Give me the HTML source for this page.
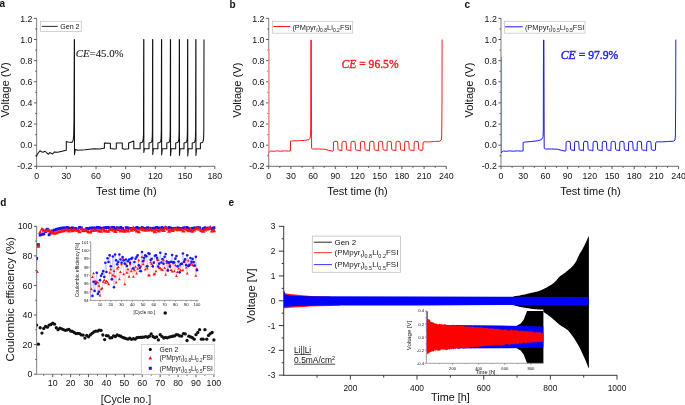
<!DOCTYPE html><html><head><meta charset="utf-8"><style>html,body{margin:0;padding:0;background:#fff;width:685px;height:405px;overflow:hidden}svg{display:block;will-change:transform}</style></head><body><svg width="685" height="405" viewBox="0 0 685 405">
<rect width="685" height="405" fill="#fff"/>
<text x="-0.4" y="7.4" font-size="10" text-anchor="start" fill="#111" font-weight="bold" font-family='"Liberation Sans", sans-serif' >a</text>
<text x="229.6" y="7.6" font-size="10" text-anchor="start" fill="#111" font-weight="bold" font-family='"Liberation Sans", sans-serif' >b</text>
<text x="464.4" y="7.6" font-size="10" text-anchor="start" fill="#111" font-weight="bold" font-family='"Liberation Sans", sans-serif' >c</text>
<text x="0.2" y="205.5" font-size="10" text-anchor="start" fill="#111" font-weight="bold" font-family='"Liberation Sans", sans-serif' >d</text>
<text x="228.6" y="205.8" font-size="10" text-anchor="start" fill="#111" font-weight="bold" font-family='"Liberation Sans", sans-serif' >e</text>
<text transform="translate(9.3 89.9) rotate(-90)" x="0" y="0" font-size="11.2" text-anchor="middle" fill="#111" font-family='"Liberation Sans", sans-serif' textLength="55.2" lengthAdjust="spacingAndGlyphs">Voltage (V)</text>
<text transform="translate(241.2 90.1) rotate(-90)" x="0" y="0" font-size="11.2" text-anchor="middle" fill="#111" font-family='"Liberation Sans", sans-serif' textLength="55.2" lengthAdjust="spacingAndGlyphs">Voltage (V)</text>
<text transform="translate(473.4 90.1) rotate(-90)" x="0" y="0" font-size="11.2" text-anchor="middle" fill="#111" font-family='"Liberation Sans", sans-serif' textLength="55.2" lengthAdjust="spacingAndGlyphs">Voltage (V)</text>
<line x1="36.6" y1="18.36" x2="36.6" y2="166.34" stroke="#8a8a8a" stroke-width="1.1"/>
<line x1="36.6" y1="166.34" x2="214.8" y2="166.34" stroke="#8a8a8a" stroke-width="1.1"/>
<line x1="34" y1="166.34" x2="36.6" y2="166.34" stroke="#444" stroke-width="0.9"/>
<text x="32.4" y="169.49" font-size="8.8" text-anchor="end" fill="#111" font-weight="normal" font-family='"Liberation Sans", sans-serif' >-0.2</text>
<line x1="34" y1="145.2" x2="36.6" y2="145.2" stroke="#444" stroke-width="0.9"/>
<text x="32.4" y="148.35" font-size="8.8" text-anchor="end" fill="#111" font-weight="normal" font-family='"Liberation Sans", sans-serif' >0.0</text>
<line x1="34" y1="124.06" x2="36.6" y2="124.06" stroke="#444" stroke-width="0.9"/>
<text x="32.4" y="127.21" font-size="8.8" text-anchor="end" fill="#111" font-weight="normal" font-family='"Liberation Sans", sans-serif' >0.2</text>
<line x1="34" y1="102.92" x2="36.6" y2="102.92" stroke="#444" stroke-width="0.9"/>
<text x="32.4" y="106.07" font-size="8.8" text-anchor="end" fill="#111" font-weight="normal" font-family='"Liberation Sans", sans-serif' >0.4</text>
<line x1="34" y1="81.78" x2="36.6" y2="81.78" stroke="#444" stroke-width="0.9"/>
<text x="32.4" y="84.93" font-size="8.8" text-anchor="end" fill="#111" font-weight="normal" font-family='"Liberation Sans", sans-serif' >0.6</text>
<line x1="34" y1="60.64" x2="36.6" y2="60.64" stroke="#444" stroke-width="0.9"/>
<text x="32.4" y="63.79" font-size="8.8" text-anchor="end" fill="#111" font-weight="normal" font-family='"Liberation Sans", sans-serif' >0.8</text>
<line x1="34" y1="39.5" x2="36.6" y2="39.5" stroke="#444" stroke-width="0.9"/>
<text x="32.4" y="42.65" font-size="8.8" text-anchor="end" fill="#111" font-weight="normal" font-family='"Liberation Sans", sans-serif' >1.0</text>
<line x1="34" y1="18.36" x2="36.6" y2="18.36" stroke="#444" stroke-width="0.9"/>
<text x="32.4" y="21.51" font-size="8.8" text-anchor="end" fill="#111" font-weight="normal" font-family='"Liberation Sans", sans-serif' >1.2</text>
<line x1="35.1" y1="155.77" x2="36.6" y2="155.77" stroke="#444" stroke-width="0.8"/>
<line x1="35.1" y1="134.63" x2="36.6" y2="134.63" stroke="#444" stroke-width="0.8"/>
<line x1="35.1" y1="113.49" x2="36.6" y2="113.49" stroke="#444" stroke-width="0.8"/>
<line x1="35.1" y1="92.35" x2="36.6" y2="92.35" stroke="#444" stroke-width="0.8"/>
<line x1="35.1" y1="71.21" x2="36.6" y2="71.21" stroke="#444" stroke-width="0.8"/>
<line x1="35.1" y1="50.07" x2="36.6" y2="50.07" stroke="#444" stroke-width="0.8"/>
<line x1="35.1" y1="28.93" x2="36.6" y2="28.93" stroke="#444" stroke-width="0.8"/>
<line x1="36.6" y1="166.34" x2="36.6" y2="169.14" stroke="#444" stroke-width="0.9"/>
<text x="36.6" y="178.5" font-size="8.8" text-anchor="middle" fill="#111" font-weight="normal" font-family='"Liberation Sans", sans-serif' >0</text>
<line x1="51.45" y1="166.34" x2="51.45" y2="167.94" stroke="#444" stroke-width="0.8"/>
<line x1="66.3" y1="166.34" x2="66.3" y2="169.14" stroke="#444" stroke-width="0.9"/>
<text x="66.3" y="178.5" font-size="8.8" text-anchor="middle" fill="#111" font-weight="normal" font-family='"Liberation Sans", sans-serif' >30</text>
<line x1="81.15" y1="166.34" x2="81.15" y2="167.94" stroke="#444" stroke-width="0.8"/>
<line x1="96" y1="166.34" x2="96" y2="169.14" stroke="#444" stroke-width="0.9"/>
<text x="96" y="178.5" font-size="8.8" text-anchor="middle" fill="#111" font-weight="normal" font-family='"Liberation Sans", sans-serif' >60</text>
<line x1="110.85" y1="166.34" x2="110.85" y2="167.94" stroke="#444" stroke-width="0.8"/>
<line x1="125.7" y1="166.34" x2="125.7" y2="169.14" stroke="#444" stroke-width="0.9"/>
<text x="125.7" y="178.5" font-size="8.8" text-anchor="middle" fill="#111" font-weight="normal" font-family='"Liberation Sans", sans-serif' >90</text>
<line x1="140.55" y1="166.34" x2="140.55" y2="167.94" stroke="#444" stroke-width="0.8"/>
<line x1="155.4" y1="166.34" x2="155.4" y2="169.14" stroke="#444" stroke-width="0.9"/>
<text x="155.4" y="178.5" font-size="8.8" text-anchor="middle" fill="#111" font-weight="normal" font-family='"Liberation Sans", sans-serif' >120</text>
<line x1="170.25" y1="166.34" x2="170.25" y2="167.94" stroke="#444" stroke-width="0.8"/>
<line x1="185.1" y1="166.34" x2="185.1" y2="169.14" stroke="#444" stroke-width="0.9"/>
<text x="185.1" y="178.5" font-size="8.8" text-anchor="middle" fill="#111" font-weight="normal" font-family='"Liberation Sans", sans-serif' >150</text>
<line x1="199.95" y1="166.34" x2="199.95" y2="167.94" stroke="#444" stroke-width="0.8"/>
<line x1="214.8" y1="166.34" x2="214.8" y2="169.14" stroke="#444" stroke-width="0.9"/>
<text x="214.8" y="178.5" font-size="8.8" text-anchor="middle" fill="#111" font-weight="normal" font-family='"Liberation Sans", sans-serif' >180</text>
<text x="126.3" y="195.2" font-size="11" text-anchor="middle" fill="#111" font-weight="normal" font-family='"Liberation Sans", sans-serif' >Test time (h)</text>
<path d="M36.3 156.6 L37.5 154 L39.9 150.7 L41.5 151.8 L42.9 152.2 L45 151.2 L46.8 153 L48.5 154.3 L49.7 152.5 L51.2 153.3 L52.7 154 L54.4 151.9 L57.7 152.2 L62 151.3 L66.3 150.3 L66.3 141.6 L68 142.1 L71.9 142.4 L73.1 140.4 L73.7 136 L74 120 L74.3 39.6 L74.45 39.6 L74.5 154.7 L75.3 149.4 L77.8 150.2 L85 149.7 L93.9 148.8 L100 148.9 L103.7 148.3 L104.4 148.3 L104.4 142.9 L110.4 143.2 L110.4 148.5 L114.2 148.9 L116.3 148.7 L116.3 142.9 L122.3 142.9 L122.3 148.5 L124.4 149.2 L128.6 148.7 L128.6 142.9 L133.8 141.1 L133.8 148.7 L140.1 148.7 L140.1 142.9 L142.4 142.2 L143.1 140 L143.5 135 L143.7 39.6 L143.85 39.6 L143.85 152.5 L144.5 148.7 L149 148.7 L149 143 L151 142.6 L151.8 141.2 L152.2 138.5 L152.4 130 L152.6 39.6 L152.75 39.6 L152.75 154.5 L153.4 148.7 L157.9 148.7 L157.9 143 L159.9 142.6 L160.7 141.2 L161.1 138.5 L161.3 130 L161.5 39.6 L161.65 39.6 L161.65 154.9 L162.3 148.7 L166.8 148.7 L166.8 143 L168.8 142.6 L169.6 141.2 L170 138.5 L170.2 130 L170.4 39.6 L170.55 39.6 L170.55 155.7 L171.2 148.7 L175.7 148.7 L175.7 143 L177.7 142.6 L178.5 141.2 L178.9 138.5 L179.1 130 L179.3 39.6 L179.45 39.6 L179.45 155.5 L180.1 148.7 L184 148.7 L184 143 L186 142.6 L186.8 141.2 L187.2 138.5 L187.4 130 L187.6 39.6 L187.75 39.6 L187.75 156 L188.4 148.7 L192.2 148.7 L192.2 143 L194.2 142.6 L195 141.2 L195.4 138.5 L195.6 130 L195.8 39.6 L195.95 39.6 L195.95 155.5 L196.6 148.7 L200.4 148.7 L200.4 143 L202.4 142.6 L203.2 141.2 L203.6 138.5 L203.8 130 L204 39.6" fill="none" stroke="#111" stroke-width="1.05" stroke-linejoin="round" />
<rect x="40.5" y="21.3" width="40.8" height="10.2" fill="#fff" stroke="#c8c8c8" stroke-width="0.8"/>
<line x1="41.8" y1="26.4" x2="57.8" y2="26.4" stroke="#111" stroke-width="0.9"/>
<text x="60.2" y="28.9" font-size="7.2" text-anchor="start" fill="#111" font-weight="normal" font-family='"Liberation Sans", sans-serif' textLength="19.4" lengthAdjust="spacingAndGlyphs" >Gen 2</text>
<text x="75.7" y="57.2" font-size="11" fill="#222" stroke="#222" stroke-width="0.12" font-family='"Liberation Serif", serif' textLength="47.9" lengthAdjust="spacingAndGlyphs"><tspan font-style="italic">CE</tspan>=45.0%</text>
<line x1="268.7" y1="18.36" x2="268.7" y2="166.34" stroke="#8a8a8a" stroke-width="1.1"/>
<line x1="268.7" y1="166.34" x2="446.3" y2="166.34" stroke="#8a8a8a" stroke-width="1.1"/>
<line x1="266.1" y1="166.34" x2="268.7" y2="166.34" stroke="#444" stroke-width="0.9"/>
<text x="264.5" y="169.49" font-size="8.8" text-anchor="end" fill="#111" font-weight="normal" font-family='"Liberation Sans", sans-serif' >-0.2</text>
<line x1="266.1" y1="145.2" x2="268.7" y2="145.2" stroke="#444" stroke-width="0.9"/>
<text x="264.5" y="148.35" font-size="8.8" text-anchor="end" fill="#111" font-weight="normal" font-family='"Liberation Sans", sans-serif' >0.0</text>
<line x1="266.1" y1="124.06" x2="268.7" y2="124.06" stroke="#444" stroke-width="0.9"/>
<text x="264.5" y="127.21" font-size="8.8" text-anchor="end" fill="#111" font-weight="normal" font-family='"Liberation Sans", sans-serif' >0.2</text>
<line x1="266.1" y1="102.92" x2="268.7" y2="102.92" stroke="#444" stroke-width="0.9"/>
<text x="264.5" y="106.07" font-size="8.8" text-anchor="end" fill="#111" font-weight="normal" font-family='"Liberation Sans", sans-serif' >0.4</text>
<line x1="266.1" y1="81.78" x2="268.7" y2="81.78" stroke="#444" stroke-width="0.9"/>
<text x="264.5" y="84.93" font-size="8.8" text-anchor="end" fill="#111" font-weight="normal" font-family='"Liberation Sans", sans-serif' >0.6</text>
<line x1="266.1" y1="60.64" x2="268.7" y2="60.64" stroke="#444" stroke-width="0.9"/>
<text x="264.5" y="63.79" font-size="8.8" text-anchor="end" fill="#111" font-weight="normal" font-family='"Liberation Sans", sans-serif' >0.8</text>
<line x1="266.1" y1="39.5" x2="268.7" y2="39.5" stroke="#444" stroke-width="0.9"/>
<text x="264.5" y="42.65" font-size="8.8" text-anchor="end" fill="#111" font-weight="normal" font-family='"Liberation Sans", sans-serif' >1.0</text>
<line x1="266.1" y1="18.36" x2="268.7" y2="18.36" stroke="#444" stroke-width="0.9"/>
<text x="264.5" y="21.51" font-size="8.8" text-anchor="end" fill="#111" font-weight="normal" font-family='"Liberation Sans", sans-serif' >1.2</text>
<line x1="267.2" y1="155.77" x2="268.7" y2="155.77" stroke="#444" stroke-width="0.8"/>
<line x1="267.2" y1="134.63" x2="268.7" y2="134.63" stroke="#444" stroke-width="0.8"/>
<line x1="267.2" y1="113.49" x2="268.7" y2="113.49" stroke="#444" stroke-width="0.8"/>
<line x1="267.2" y1="92.35" x2="268.7" y2="92.35" stroke="#444" stroke-width="0.8"/>
<line x1="267.2" y1="71.21" x2="268.7" y2="71.21" stroke="#444" stroke-width="0.8"/>
<line x1="267.2" y1="50.07" x2="268.7" y2="50.07" stroke="#444" stroke-width="0.8"/>
<line x1="267.2" y1="28.93" x2="268.7" y2="28.93" stroke="#444" stroke-width="0.8"/>
<line x1="268.7" y1="166.34" x2="268.7" y2="169.14" stroke="#444" stroke-width="0.9"/>
<text x="268.7" y="178.5" font-size="8.8" text-anchor="middle" fill="#111" font-weight="normal" font-family='"Liberation Sans", sans-serif' >0</text>
<line x1="279.8" y1="166.34" x2="279.8" y2="167.94" stroke="#444" stroke-width="0.8"/>
<line x1="290.9" y1="166.34" x2="290.9" y2="169.14" stroke="#444" stroke-width="0.9"/>
<text x="290.9" y="178.5" font-size="8.8" text-anchor="middle" fill="#111" font-weight="normal" font-family='"Liberation Sans", sans-serif' >30</text>
<line x1="302" y1="166.34" x2="302" y2="167.94" stroke="#444" stroke-width="0.8"/>
<line x1="313.1" y1="166.34" x2="313.1" y2="169.14" stroke="#444" stroke-width="0.9"/>
<text x="313.1" y="178.5" font-size="8.8" text-anchor="middle" fill="#111" font-weight="normal" font-family='"Liberation Sans", sans-serif' >60</text>
<line x1="324.2" y1="166.34" x2="324.2" y2="167.94" stroke="#444" stroke-width="0.8"/>
<line x1="335.3" y1="166.34" x2="335.3" y2="169.14" stroke="#444" stroke-width="0.9"/>
<text x="335.3" y="178.5" font-size="8.8" text-anchor="middle" fill="#111" font-weight="normal" font-family='"Liberation Sans", sans-serif' >90</text>
<line x1="346.4" y1="166.34" x2="346.4" y2="167.94" stroke="#444" stroke-width="0.8"/>
<line x1="357.5" y1="166.34" x2="357.5" y2="169.14" stroke="#444" stroke-width="0.9"/>
<text x="357.5" y="178.5" font-size="8.8" text-anchor="middle" fill="#111" font-weight="normal" font-family='"Liberation Sans", sans-serif' >120</text>
<line x1="368.6" y1="166.34" x2="368.6" y2="167.94" stroke="#444" stroke-width="0.8"/>
<line x1="379.7" y1="166.34" x2="379.7" y2="169.14" stroke="#444" stroke-width="0.9"/>
<text x="379.7" y="178.5" font-size="8.8" text-anchor="middle" fill="#111" font-weight="normal" font-family='"Liberation Sans", sans-serif' >150</text>
<line x1="390.8" y1="166.34" x2="390.8" y2="167.94" stroke="#444" stroke-width="0.8"/>
<line x1="401.9" y1="166.34" x2="401.9" y2="169.14" stroke="#444" stroke-width="0.9"/>
<text x="401.9" y="178.5" font-size="8.8" text-anchor="middle" fill="#111" font-weight="normal" font-family='"Liberation Sans", sans-serif' >180</text>
<line x1="413" y1="166.34" x2="413" y2="167.94" stroke="#444" stroke-width="0.8"/>
<line x1="424.1" y1="166.34" x2="424.1" y2="169.14" stroke="#444" stroke-width="0.9"/>
<text x="424.1" y="178.5" font-size="8.8" text-anchor="middle" fill="#111" font-weight="normal" font-family='"Liberation Sans", sans-serif' >210</text>
<line x1="435.2" y1="166.34" x2="435.2" y2="167.94" stroke="#444" stroke-width="0.8"/>
<line x1="446.3" y1="166.34" x2="446.3" y2="169.14" stroke="#444" stroke-width="0.9"/>
<text x="446.3" y="178.5" font-size="8.8" text-anchor="middle" fill="#111" font-weight="normal" font-family='"Liberation Sans", sans-serif' >240</text>
<text x="357.5" y="195.2" font-size="11" text-anchor="middle" fill="#111" font-weight="normal" font-family='"Liberation Sans", sans-serif' >Test time (h)</text>
<line x1="268.9" y1="48.9" x2="268.9" y2="152.7" stroke="#ff9a9a" stroke-width="1.4"/>
<path d="M268.7 152.7 L269.5 151.9 L270.8 151 L273.7 151.3 L276.7 150.9 L280.7 151.2 L284.7 150.9 L288.7 151.1 L290.5 150.9 L290.5 141.1 L292.7 140.9 L298.7 140.7 L304.7 140.4 L309 139.6 L310.2 138 L310.7 130 L310.9 40 L311.3 40 L311.6 148.4 L312.7 149 L318.7 149 L324.8 149.2 L328.7 150.3 L332.8 151.2 L333.3 150.9 L333.5 143 L333.9 141.6 L334.7 141.3 L337.3 141.5 L337.7 143 L338 149.2 L338.7 150.1 L341.6 150.3 L341.8 150.9 L342 143 L342.4 141.6 L343.2 141.3 L345.8 141.5 L346.2 143 L346.5 149.2 L347.2 150.1 L350.1 150.3 L350.8 150.9 L351 143 L351.4 141.6 L352.2 141.3 L354.8 141.5 L355.2 143 L355.5 149.2 L356.2 150.1 L359.1 150.3 L360.3 150.9 L360.5 143 L360.9 141.6 L361.7 141.3 L364.3 141.5 L364.7 143 L365 149.2 L365.7 150.1 L368.6 150.3 L369.5 150.9 L369.7 143 L370.1 141.6 L370.9 141.3 L373.5 141.5 L373.9 143 L374.2 149.2 L374.9 150.1 L377.8 150.3 L378.3 150.9 L378.5 143 L378.9 141.6 L379.7 141.3 L382.3 141.5 L382.7 143 L383 149.2 L383.7 150.1 L386.6 150.3 L387 150.9 L387.2 143 L387.6 141.6 L388.4 141.3 L391 141.5 L391.4 143 L391.7 149.2 L392.4 150.1 L395.3 150.3 L395.8 150.9 L396 143 L396.4 141.6 L397.2 141.3 L399.8 141.5 L400.2 143 L400.5 149.2 L401.2 150.1 L404.1 150.3 L404.5 150.9 L404.7 143 L405.1 141.6 L405.9 141.3 L408.5 141.5 L408.9 143 L409.2 149.2 L409.9 150.1 L412.8 150.3 L414 150.9 L414.2 143 L414.6 141.6 L415.4 141.3 L418 141.5 L418.4 143 L418.7 149.2 L419.4 150.1 L422.3 150.3 L422.8 150.1 L423.1 143 L423.7 141.8 L428.7 141.9 L434.7 141.5 L439.7 141.2 L441.3 140 L441.7 136 L442 100 L442.1 39.6" fill="none" stroke="#ff1a1a" stroke-width="1" stroke-linejoin="round" />
<rect x="272.5" y="21.3" width="80.2" height="11.9" fill="#fff" stroke="#c8c8c8" stroke-width="0.8"/>
<line x1="273.2" y1="26.5" x2="290.3" y2="26.5" stroke="#ff1a1a" stroke-width="1"/>
<text x="292.4" y="29.7" font-size="7.5" fill="#222" font-family='"Liberation Sans", sans-serif' textLength="59" lengthAdjust="spacingAndGlyphs">(PMpyr<tspan font-size="5.1" dy="2.25">f</tspan><tspan dy="-2.25">)</tspan><tspan font-size="5.1" dy="2.25">0.8</tspan><tspan dy="-2.25">Li</tspan><tspan font-size="5.1" dy="2.25">0.2</tspan><tspan dy="-2.25">FSI</tspan></text>
<text x="341.4" y="67.8" font-size="11.8" fill="#ff2020" stroke="#ff2020" stroke-width="0.4" font-family='"Liberation Serif", serif' textLength="57.2" lengthAdjust="spacingAndGlyphs"><tspan font-style="italic">CE</tspan> = 96.5%</text>
<line x1="501" y1="18.36" x2="501" y2="166.34" stroke="#8a8a8a" stroke-width="1.1"/>
<line x1="501" y1="166.34" x2="678.6" y2="166.34" stroke="#8a8a8a" stroke-width="1.1"/>
<line x1="498.4" y1="166.34" x2="501" y2="166.34" stroke="#444" stroke-width="0.9"/>
<text x="496.8" y="169.49" font-size="8.8" text-anchor="end" fill="#111" font-weight="normal" font-family='"Liberation Sans", sans-serif' >-0.2</text>
<line x1="498.4" y1="145.2" x2="501" y2="145.2" stroke="#444" stroke-width="0.9"/>
<text x="496.8" y="148.35" font-size="8.8" text-anchor="end" fill="#111" font-weight="normal" font-family='"Liberation Sans", sans-serif' >0.0</text>
<line x1="498.4" y1="124.06" x2="501" y2="124.06" stroke="#444" stroke-width="0.9"/>
<text x="496.8" y="127.21" font-size="8.8" text-anchor="end" fill="#111" font-weight="normal" font-family='"Liberation Sans", sans-serif' >0.2</text>
<line x1="498.4" y1="102.92" x2="501" y2="102.92" stroke="#444" stroke-width="0.9"/>
<text x="496.8" y="106.07" font-size="8.8" text-anchor="end" fill="#111" font-weight="normal" font-family='"Liberation Sans", sans-serif' >0.4</text>
<line x1="498.4" y1="81.78" x2="501" y2="81.78" stroke="#444" stroke-width="0.9"/>
<text x="496.8" y="84.93" font-size="8.8" text-anchor="end" fill="#111" font-weight="normal" font-family='"Liberation Sans", sans-serif' >0.6</text>
<line x1="498.4" y1="60.64" x2="501" y2="60.64" stroke="#444" stroke-width="0.9"/>
<text x="496.8" y="63.79" font-size="8.8" text-anchor="end" fill="#111" font-weight="normal" font-family='"Liberation Sans", sans-serif' >0.8</text>
<line x1="498.4" y1="39.5" x2="501" y2="39.5" stroke="#444" stroke-width="0.9"/>
<text x="496.8" y="42.65" font-size="8.8" text-anchor="end" fill="#111" font-weight="normal" font-family='"Liberation Sans", sans-serif' >1.0</text>
<line x1="498.4" y1="18.36" x2="501" y2="18.36" stroke="#444" stroke-width="0.9"/>
<text x="496.8" y="21.51" font-size="8.8" text-anchor="end" fill="#111" font-weight="normal" font-family='"Liberation Sans", sans-serif' >1.2</text>
<line x1="499.5" y1="155.77" x2="501" y2="155.77" stroke="#444" stroke-width="0.8"/>
<line x1="499.5" y1="134.63" x2="501" y2="134.63" stroke="#444" stroke-width="0.8"/>
<line x1="499.5" y1="113.49" x2="501" y2="113.49" stroke="#444" stroke-width="0.8"/>
<line x1="499.5" y1="92.35" x2="501" y2="92.35" stroke="#444" stroke-width="0.8"/>
<line x1="499.5" y1="71.21" x2="501" y2="71.21" stroke="#444" stroke-width="0.8"/>
<line x1="499.5" y1="50.07" x2="501" y2="50.07" stroke="#444" stroke-width="0.8"/>
<line x1="499.5" y1="28.93" x2="501" y2="28.93" stroke="#444" stroke-width="0.8"/>
<line x1="501" y1="166.34" x2="501" y2="169.14" stroke="#444" stroke-width="0.9"/>
<text x="501" y="178.5" font-size="8.8" text-anchor="middle" fill="#111" font-weight="normal" font-family='"Liberation Sans", sans-serif' >0</text>
<line x1="512.1" y1="166.34" x2="512.1" y2="167.94" stroke="#444" stroke-width="0.8"/>
<line x1="523.2" y1="166.34" x2="523.2" y2="169.14" stroke="#444" stroke-width="0.9"/>
<text x="523.2" y="178.5" font-size="8.8" text-anchor="middle" fill="#111" font-weight="normal" font-family='"Liberation Sans", sans-serif' >30</text>
<line x1="534.3" y1="166.34" x2="534.3" y2="167.94" stroke="#444" stroke-width="0.8"/>
<line x1="545.4" y1="166.34" x2="545.4" y2="169.14" stroke="#444" stroke-width="0.9"/>
<text x="545.4" y="178.5" font-size="8.8" text-anchor="middle" fill="#111" font-weight="normal" font-family='"Liberation Sans", sans-serif' >60</text>
<line x1="556.5" y1="166.34" x2="556.5" y2="167.94" stroke="#444" stroke-width="0.8"/>
<line x1="567.6" y1="166.34" x2="567.6" y2="169.14" stroke="#444" stroke-width="0.9"/>
<text x="567.6" y="178.5" font-size="8.8" text-anchor="middle" fill="#111" font-weight="normal" font-family='"Liberation Sans", sans-serif' >90</text>
<line x1="578.7" y1="166.34" x2="578.7" y2="167.94" stroke="#444" stroke-width="0.8"/>
<line x1="589.8" y1="166.34" x2="589.8" y2="169.14" stroke="#444" stroke-width="0.9"/>
<text x="589.8" y="178.5" font-size="8.8" text-anchor="middle" fill="#111" font-weight="normal" font-family='"Liberation Sans", sans-serif' >120</text>
<line x1="600.9" y1="166.34" x2="600.9" y2="167.94" stroke="#444" stroke-width="0.8"/>
<line x1="612" y1="166.34" x2="612" y2="169.14" stroke="#444" stroke-width="0.9"/>
<text x="612" y="178.5" font-size="8.8" text-anchor="middle" fill="#111" font-weight="normal" font-family='"Liberation Sans", sans-serif' >150</text>
<line x1="623.1" y1="166.34" x2="623.1" y2="167.94" stroke="#444" stroke-width="0.8"/>
<line x1="634.2" y1="166.34" x2="634.2" y2="169.14" stroke="#444" stroke-width="0.9"/>
<text x="634.2" y="178.5" font-size="8.8" text-anchor="middle" fill="#111" font-weight="normal" font-family='"Liberation Sans", sans-serif' >180</text>
<line x1="645.3" y1="166.34" x2="645.3" y2="167.94" stroke="#444" stroke-width="0.8"/>
<line x1="656.4" y1="166.34" x2="656.4" y2="169.14" stroke="#444" stroke-width="0.9"/>
<text x="656.4" y="178.5" font-size="8.8" text-anchor="middle" fill="#111" font-weight="normal" font-family='"Liberation Sans", sans-serif' >210</text>
<line x1="667.5" y1="166.34" x2="667.5" y2="167.94" stroke="#444" stroke-width="0.8"/>
<line x1="678.6" y1="166.34" x2="678.6" y2="169.14" stroke="#444" stroke-width="0.9"/>
<text x="678.6" y="178.5" font-size="8.8" text-anchor="middle" fill="#111" font-weight="normal" font-family='"Liberation Sans", sans-serif' >240</text>
<text x="590.5" y="195.2" font-size="11" text-anchor="middle" fill="#111" font-weight="normal" font-family='"Liberation Sans", sans-serif' >Test time (h)</text>
<line x1="501.5" y1="57.2" x2="501.5" y2="152.7" stroke="#7b7bff" stroke-width="1.1"/>
<path d="M501 152.7 L502.1 151.9 L503.4 151 L506.3 151.3 L509.3 150.9 L513.3 151.2 L517.3 150.9 L521.3 151.1 L523.1 150.9 L523.1 142.4 L525.3 142 L531.3 141.5 L537.3 140.8 L541.6 139.6 L542.6 137.6 L543.1 136.5 L543.3 130 L543.5 40 L543.9 40 L544.2 148.4 L545.3 149 L551.3 149 L557.4 149.2 L561.3 150.3 L565.4 151.2 L565.9 150.9 L566.1 143 L566.5 141.6 L567.3 141.3 L569.9 141.5 L570.3 143 L570.6 149.2 L571.3 150.1 L574.2 150.3 L574.4 150.9 L574.6 143 L575 141.6 L575.8 141.3 L578.4 141.5 L578.8 143 L579.1 149.2 L579.8 150.1 L582.7 150.3 L583.4 150.9 L583.6 143 L584 141.6 L584.8 141.3 L587.4 141.5 L587.8 143 L588.1 149.2 L588.8 150.1 L591.7 150.3 L592.9 150.9 L593.1 143 L593.5 141.6 L594.3 141.3 L596.9 141.5 L597.3 143 L597.6 149.2 L598.3 150.1 L601.2 150.3 L602.1 150.9 L602.3 143 L602.7 141.6 L603.5 141.3 L606.1 141.5 L606.5 143 L606.8 149.2 L607.5 150.1 L610.4 150.3 L610.9 150.9 L611.1 143 L611.5 141.6 L612.3 141.3 L614.9 141.5 L615.3 143 L615.6 149.2 L616.3 150.1 L619.2 150.3 L619.6 150.9 L619.8 143 L620.2 141.6 L621 141.3 L623.6 141.5 L624 143 L624.3 149.2 L625 150.1 L627.9 150.3 L628.4 150.9 L628.6 143 L629 141.6 L629.8 141.3 L632.4 141.5 L632.8 143 L633.1 149.2 L633.8 150.1 L636.7 150.3 L637.1 150.9 L637.3 143 L637.7 141.6 L638.5 141.3 L641.1 141.5 L641.5 143 L641.8 149.2 L642.5 150.1 L645.4 150.3 L646.6 150.9 L646.8 143 L647.2 141.6 L648 141.3 L650.6 141.5 L651 143 L651.3 149.2 L652 150.1 L654.9 150.3 L655.4 150.1 L655.7 143 L656.3 141.8 L661.3 141.9 L667.3 141.5 L673.4 141.2 L675 140 L675.4 136 L675.7 100 L675.8 39.6" fill="none" stroke="#1a1aff" stroke-width="1" stroke-linejoin="round" />
<rect x="504.4" y="21.3" width="80.6" height="11.9" fill="#fff" stroke="#c8c8c8" stroke-width="0.8"/>
<line x1="505" y1="26.8" x2="522.8" y2="26.8" stroke="#1a1aff" stroke-width="1"/>
<text x="524.9" y="29.7" font-size="7.5" fill="#222" font-family='"Liberation Sans", sans-serif' textLength="59.4" lengthAdjust="spacingAndGlyphs">(PMpyr<tspan font-size="5.1" dy="2.25">f</tspan><tspan dy="-2.25">)</tspan><tspan font-size="5.1" dy="2.25">0.5</tspan><tspan dy="-2.25">Li</tspan><tspan font-size="5.1" dy="2.25">0.5</tspan><tspan dy="-2.25">FSI</tspan></text>
<text x="560.8" y="58.6" font-size="11.8" fill="#2020ff" stroke="#2020ff" stroke-width="0.4" font-family='"Liberation Serif", serif' textLength="57.5" lengthAdjust="spacingAndGlyphs"><tspan font-style="italic">CE</tspan> = 97.9%</text>
<text transform="translate(14.3 299.3) rotate(-90)" x="0" y="0" font-size="11" text-anchor="middle" fill="#111" font-family='"Liberation Sans", sans-serif' textLength="124.5" lengthAdjust="spacingAndGlyphs">Coulombic efficiency (%)</text>
<line x1="36.6" y1="226" x2="36.6" y2="374.2" stroke="#8a8a8a" stroke-width="1.1"/>
<line x1="36.6" y1="374.2" x2="214.3" y2="374.2" stroke="#8a8a8a" stroke-width="1.1"/>
<line x1="33.9" y1="374.2" x2="36.6" y2="374.2" stroke="#444" stroke-width="0.9"/>
<text x="32.4" y="377.35" font-size="8.8" text-anchor="end" fill="#111" font-weight="normal" font-family='"Liberation Sans", sans-serif' >0</text>
<line x1="33.9" y1="344.62" x2="36.6" y2="344.62" stroke="#444" stroke-width="0.9"/>
<text x="32.4" y="347.77" font-size="8.8" text-anchor="end" fill="#111" font-weight="normal" font-family='"Liberation Sans", sans-serif' >20</text>
<line x1="33.9" y1="315.04" x2="36.6" y2="315.04" stroke="#444" stroke-width="0.9"/>
<text x="32.4" y="318.19" font-size="8.8" text-anchor="end" fill="#111" font-weight="normal" font-family='"Liberation Sans", sans-serif' >40</text>
<line x1="33.9" y1="285.46" x2="36.6" y2="285.46" stroke="#444" stroke-width="0.9"/>
<text x="32.4" y="288.61" font-size="8.8" text-anchor="end" fill="#111" font-weight="normal" font-family='"Liberation Sans", sans-serif' >60</text>
<line x1="33.9" y1="255.88" x2="36.6" y2="255.88" stroke="#444" stroke-width="0.9"/>
<text x="32.4" y="259.03" font-size="8.8" text-anchor="end" fill="#111" font-weight="normal" font-family='"Liberation Sans", sans-serif' >80</text>
<line x1="33.9" y1="226.3" x2="36.6" y2="226.3" stroke="#444" stroke-width="0.9"/>
<text x="32.4" y="229.45" font-size="8.8" text-anchor="end" fill="#111" font-weight="normal" font-family='"Liberation Sans", sans-serif' >100</text>
<line x1="35.1" y1="359.41" x2="36.6" y2="359.41" stroke="#444" stroke-width="0.8"/>
<line x1="35.1" y1="329.83" x2="36.6" y2="329.83" stroke="#444" stroke-width="0.8"/>
<line x1="35.1" y1="300.25" x2="36.6" y2="300.25" stroke="#444" stroke-width="0.8"/>
<line x1="35.1" y1="270.67" x2="36.6" y2="270.67" stroke="#444" stroke-width="0.8"/>
<line x1="35.1" y1="241.09" x2="36.6" y2="241.09" stroke="#444" stroke-width="0.8"/>
<line x1="52.72" y1="374.2" x2="52.72" y2="377.2" stroke="#444" stroke-width="0.9"/>
<text x="52.72" y="386.3" font-size="8.8" text-anchor="middle" fill="#111" font-weight="normal" font-family='"Liberation Sans", sans-serif' >10</text>
<line x1="70.63" y1="374.2" x2="70.63" y2="377.2" stroke="#444" stroke-width="0.9"/>
<text x="70.63" y="386.3" font-size="8.8" text-anchor="middle" fill="#111" font-weight="normal" font-family='"Liberation Sans", sans-serif' >20</text>
<line x1="88.54" y1="374.2" x2="88.54" y2="377.2" stroke="#444" stroke-width="0.9"/>
<text x="88.54" y="386.3" font-size="8.8" text-anchor="middle" fill="#111" font-weight="normal" font-family='"Liberation Sans", sans-serif' >30</text>
<line x1="106.45" y1="374.2" x2="106.45" y2="377.2" stroke="#444" stroke-width="0.9"/>
<text x="106.45" y="386.3" font-size="8.8" text-anchor="middle" fill="#111" font-weight="normal" font-family='"Liberation Sans", sans-serif' >40</text>
<line x1="124.36" y1="374.2" x2="124.36" y2="377.2" stroke="#444" stroke-width="0.9"/>
<text x="124.36" y="386.3" font-size="8.8" text-anchor="middle" fill="#111" font-weight="normal" font-family='"Liberation Sans", sans-serif' >50</text>
<line x1="142.27" y1="374.2" x2="142.27" y2="377.2" stroke="#444" stroke-width="0.9"/>
<text x="142.27" y="386.3" font-size="8.8" text-anchor="middle" fill="#111" font-weight="normal" font-family='"Liberation Sans", sans-serif' >60</text>
<line x1="160.18" y1="374.2" x2="160.18" y2="377.2" stroke="#444" stroke-width="0.9"/>
<text x="160.18" y="386.3" font-size="8.8" text-anchor="middle" fill="#111" font-weight="normal" font-family='"Liberation Sans", sans-serif' >70</text>
<line x1="178.09" y1="374.2" x2="178.09" y2="377.2" stroke="#444" stroke-width="0.9"/>
<text x="178.09" y="386.3" font-size="8.8" text-anchor="middle" fill="#111" font-weight="normal" font-family='"Liberation Sans", sans-serif' >80</text>
<line x1="196" y1="374.2" x2="196" y2="377.2" stroke="#444" stroke-width="0.9"/>
<text x="196" y="386.3" font-size="8.8" text-anchor="middle" fill="#111" font-weight="normal" font-family='"Liberation Sans", sans-serif' >90</text>
<line x1="213.91" y1="374.2" x2="213.91" y2="377.2" stroke="#444" stroke-width="0.9"/>
<text x="213.91" y="386.3" font-size="8.8" text-anchor="middle" fill="#111" font-weight="normal" font-family='"Liberation Sans", sans-serif' >100</text>
<line x1="43.76" y1="374.2" x2="43.76" y2="375.9" stroke="#444" stroke-width="0.8"/>
<line x1="61.67" y1="374.2" x2="61.67" y2="375.9" stroke="#444" stroke-width="0.8"/>
<line x1="79.58" y1="374.2" x2="79.58" y2="375.9" stroke="#444" stroke-width="0.8"/>
<line x1="97.49" y1="374.2" x2="97.49" y2="375.9" stroke="#444" stroke-width="0.8"/>
<line x1="115.4" y1="374.2" x2="115.4" y2="375.9" stroke="#444" stroke-width="0.8"/>
<line x1="133.31" y1="374.2" x2="133.31" y2="375.9" stroke="#444" stroke-width="0.8"/>
<line x1="151.22" y1="374.2" x2="151.22" y2="375.9" stroke="#444" stroke-width="0.8"/>
<line x1="169.13" y1="374.2" x2="169.13" y2="375.9" stroke="#444" stroke-width="0.8"/>
<line x1="187.04" y1="374.2" x2="187.04" y2="375.9" stroke="#444" stroke-width="0.8"/>
<line x1="204.95" y1="374.2" x2="204.95" y2="375.9" stroke="#444" stroke-width="0.8"/>
<text x="126" y="402.9" font-size="10.9" text-anchor="middle" fill="#111" font-weight="normal" font-family='"Liberation Sans", sans-serif' textLength="50.5" lengthAdjust="spacingAndGlyphs" >[Cycle no.]</text>
<clipPath id="cd"><rect x="36.6" y="200" width="180" height="174.2"/></clipPath>
<g clip-path="url(#cd)">
<circle cx="36.6" cy="325.1" r="1.65" fill="#111"/>
<circle cx="38.39" cy="344.18" r="1.65" fill="#111"/>
<circle cx="40.18" cy="327.76" r="1.65" fill="#111"/>
<circle cx="41.97" cy="333.08" r="1.65" fill="#111"/>
<circle cx="43.76" cy="328.5" r="1.65" fill="#111"/>
<circle cx="45.55" cy="326.43" r="1.65" fill="#111"/>
<circle cx="47.35" cy="327.17" r="1.65" fill="#111"/>
<circle cx="49.14" cy="325.1" r="1.65" fill="#111"/>
<circle cx="50.93" cy="324.51" r="1.65" fill="#111"/>
<circle cx="52.72" cy="323.17" r="1.65" fill="#111"/>
<circle cx="54.51" cy="324.21" r="1.65" fill="#111"/>
<circle cx="56.3" cy="327.76" r="1.65" fill="#111"/>
<circle cx="58.09" cy="329.64" r="1.65" fill="#111"/>
<circle cx="59.88" cy="328.19" r="1.65" fill="#111"/>
<circle cx="61.67" cy="328.87" r="1.65" fill="#111"/>
<circle cx="63.47" cy="329.57" r="1.65" fill="#111"/>
<circle cx="65.26" cy="330.29" r="1.65" fill="#111"/>
<circle cx="67.05" cy="329.95" r="1.65" fill="#111"/>
<circle cx="68.84" cy="329.33" r="1.65" fill="#111"/>
<circle cx="70.63" cy="330.99" r="1.65" fill="#111"/>
<circle cx="72.42" cy="331.45" r="1.65" fill="#111"/>
<circle cx="74.21" cy="332.48" r="1.65" fill="#111"/>
<circle cx="76" cy="333.6" r="1.65" fill="#111"/>
<circle cx="77.79" cy="333.29" r="1.65" fill="#111"/>
<circle cx="79.58" cy="333.54" r="1.65" fill="#111"/>
<circle cx="81.38" cy="334.97" r="1.65" fill="#111"/>
<circle cx="83.17" cy="335.12" r="1.65" fill="#111"/>
<circle cx="84.96" cy="338.1" r="1.65" fill="#111"/>
<circle cx="86.75" cy="335.44" r="1.65" fill="#111"/>
<circle cx="88.54" cy="336.79" r="1.65" fill="#111"/>
<circle cx="90.33" cy="334.94" r="1.65" fill="#111"/>
<circle cx="92.12" cy="333.29" r="1.65" fill="#111"/>
<circle cx="93.91" cy="331.88" r="1.65" fill="#111"/>
<circle cx="95.7" cy="331.12" r="1.65" fill="#111"/>
<circle cx="97.49" cy="331.18" r="1.65" fill="#111"/>
<circle cx="99.28" cy="330.11" r="1.65" fill="#111"/>
<circle cx="101.08" cy="330.43" r="1.65" fill="#111"/>
<circle cx="102.87" cy="335.01" r="1.65" fill="#111"/>
<circle cx="104.66" cy="339.59" r="1.65" fill="#111"/>
<circle cx="106.45" cy="335.63" r="1.65" fill="#111"/>
<circle cx="108.24" cy="335.9" r="1.65" fill="#111"/>
<circle cx="110.03" cy="337.88" r="1.65" fill="#111"/>
<circle cx="111.82" cy="337.64" r="1.65" fill="#111"/>
<circle cx="113.61" cy="335.82" r="1.65" fill="#111"/>
<circle cx="115.4" cy="336.5" r="1.65" fill="#111"/>
<circle cx="117.19" cy="334.9" r="1.65" fill="#111"/>
<circle cx="118.99" cy="335.67" r="1.65" fill="#111"/>
<circle cx="120.78" cy="336.25" r="1.65" fill="#111"/>
<circle cx="122.57" cy="337.33" r="1.65" fill="#111"/>
<circle cx="124.36" cy="337.99" r="1.65" fill="#111"/>
<circle cx="126.15" cy="338.62" r="1.65" fill="#111"/>
<circle cx="127.94" cy="339.16" r="1.65" fill="#111"/>
<circle cx="129.73" cy="338.11" r="1.65" fill="#111"/>
<circle cx="131.52" cy="339.28" r="1.65" fill="#111"/>
<circle cx="133.31" cy="338.69" r="1.65" fill="#111"/>
<circle cx="135.1" cy="339.18" r="1.65" fill="#111"/>
<circle cx="136.9" cy="337.65" r="1.65" fill="#111"/>
<circle cx="138.69" cy="337.32" r="1.65" fill="#111"/>
<circle cx="140.48" cy="337.4" r="1.65" fill="#111"/>
<circle cx="142.27" cy="337.24" r="1.65" fill="#111"/>
<circle cx="144.06" cy="337.09" r="1.65" fill="#111"/>
<circle cx="145.85" cy="336.56" r="1.65" fill="#111"/>
<circle cx="147.64" cy="337.25" r="1.65" fill="#111"/>
<circle cx="149.43" cy="336.23" r="1.65" fill="#111"/>
<circle cx="151.22" cy="333.97" r="1.65" fill="#111"/>
<circle cx="153.01" cy="336.49" r="1.65" fill="#111"/>
<circle cx="154.81" cy="337.67" r="1.65" fill="#111"/>
<circle cx="156.6" cy="336.93" r="1.65" fill="#111"/>
<circle cx="158.39" cy="339.89" r="1.65" fill="#111"/>
<circle cx="160.18" cy="334.71" r="1.65" fill="#111"/>
<circle cx="161.97" cy="336.4" r="1.65" fill="#111"/>
<circle cx="163.76" cy="338.01" r="1.65" fill="#111"/>
<circle cx="165.55" cy="337.42" r="1.65" fill="#111"/>
<circle cx="167.34" cy="337.78" r="1.65" fill="#111"/>
<circle cx="169.13" cy="337.08" r="1.65" fill="#111"/>
<circle cx="170.92" cy="336.7" r="1.65" fill="#111"/>
<circle cx="172.72" cy="336.27" r="1.65" fill="#111"/>
<circle cx="174.51" cy="335.93" r="1.65" fill="#111"/>
<circle cx="176.3" cy="334.65" r="1.65" fill="#111"/>
<circle cx="178.09" cy="334.9" r="1.65" fill="#111"/>
<circle cx="179.88" cy="335.92" r="1.65" fill="#111"/>
<circle cx="181.67" cy="336.11" r="1.65" fill="#111"/>
<circle cx="183.46" cy="333.62" r="1.65" fill="#111"/>
<circle cx="185.25" cy="333.91" r="1.65" fill="#111"/>
<circle cx="187.04" cy="340.48" r="1.65" fill="#111"/>
<circle cx="188.83" cy="336.19" r="1.65" fill="#111"/>
<circle cx="190.63" cy="336.93" r="1.65" fill="#111"/>
<circle cx="192.42" cy="337.67" r="1.65" fill="#111"/>
<circle cx="194.21" cy="339.15" r="1.65" fill="#111"/>
<circle cx="196" cy="334.71" r="1.65" fill="#111"/>
<circle cx="197.79" cy="332.49" r="1.65" fill="#111"/>
<circle cx="199.58" cy="329.68" r="1.65" fill="#111"/>
<circle cx="201.37" cy="339.15" r="1.65" fill="#111"/>
<circle cx="203.16" cy="339.15" r="1.65" fill="#111"/>
<circle cx="204.95" cy="329.68" r="1.65" fill="#111"/>
<circle cx="206.74" cy="339.15" r="1.65" fill="#111"/>
<circle cx="208.54" cy="335.45" r="1.65" fill="#111"/>
<circle cx="210.33" cy="333.53" r="1.65" fill="#111"/>
<circle cx="212.12" cy="332.49" r="1.65" fill="#111"/>
<circle cx="213.91" cy="339.89" r="1.65" fill="#111"/>
<rect x="35.15" y="256.94" width="2.9" height="2.9" fill="#1212ff"/>
<rect x="36.94" y="243.19" width="2.9" height="2.9" fill="#1212ff"/>
<rect x="38.73" y="233.58" width="2.9" height="2.9" fill="#1212ff"/>
<rect x="40.52" y="232.84" width="2.9" height="2.9" fill="#1212ff"/>
<rect x="42.31" y="232.54" width="2.9" height="2.9" fill="#1212ff"/>
<rect x="44.1" y="230.03" width="2.9" height="2.9" fill="#1212ff"/>
<rect x="45.9" y="227.81" width="2.9" height="2.9" fill="#1212ff"/>
<rect x="47.69" y="233.28" width="2.9" height="2.9" fill="#1212ff"/>
<rect x="49.48" y="231.51" width="2.9" height="2.9" fill="#1212ff"/>
<rect x="51.27" y="229.43" width="2.9" height="2.9" fill="#1212ff"/>
<rect x="53.06" y="228.7" width="2.9" height="2.9" fill="#1212ff"/>
<rect x="54.85" y="227.96" width="2.9" height="2.9" fill="#1212ff"/>
<rect x="56.64" y="227.51" width="2.9" height="2.9" fill="#1212ff"/>
<rect x="58.43" y="227.07" width="2.9" height="2.9" fill="#1212ff"/>
<rect x="60.22" y="226.77" width="2.9" height="2.9" fill="#1212ff"/>
<rect x="62.02" y="226.48" width="2.9" height="2.9" fill="#1212ff"/>
<rect x="63.81" y="226.65" width="2.9" height="2.9" fill="#1212ff"/>
<rect x="65.6" y="226.05" width="2.9" height="2.9" fill="#1212ff"/>
<rect x="67.39" y="226.58" width="2.9" height="2.9" fill="#1212ff"/>
<rect x="69.18" y="226.98" width="2.9" height="2.9" fill="#1212ff"/>
<rect x="70.97" y="226.42" width="2.9" height="2.9" fill="#1212ff"/>
<rect x="72.76" y="227.1" width="2.9" height="2.9" fill="#1212ff"/>
<rect x="74.55" y="227.1" width="2.9" height="2.9" fill="#1212ff"/>
<rect x="76.34" y="228.56" width="2.9" height="2.9" fill="#1212ff"/>
<rect x="78.13" y="225.98" width="2.9" height="2.9" fill="#1212ff"/>
<rect x="79.92" y="226.39" width="2.9" height="2.9" fill="#1212ff"/>
<rect x="81.72" y="229.24" width="2.9" height="2.9" fill="#1212ff"/>
<rect x="83.51" y="228.77" width="2.9" height="2.9" fill="#1212ff"/>
<rect x="85.3" y="226.98" width="2.9" height="2.9" fill="#1212ff"/>
<rect x="87.09" y="227.18" width="2.9" height="2.9" fill="#1212ff"/>
<rect x="88.88" y="226.66" width="2.9" height="2.9" fill="#1212ff"/>
<rect x="90.67" y="226.56" width="2.9" height="2.9" fill="#1212ff"/>
<rect x="92.46" y="226.59" width="2.9" height="2.9" fill="#1212ff"/>
<rect x="94.25" y="226.64" width="2.9" height="2.9" fill="#1212ff"/>
<rect x="96.04" y="225.96" width="2.9" height="2.9" fill="#1212ff"/>
<rect x="97.83" y="226.16" width="2.9" height="2.9" fill="#1212ff"/>
<rect x="99.63" y="226.82" width="2.9" height="2.9" fill="#1212ff"/>
<rect x="101.42" y="226.85" width="2.9" height="2.9" fill="#1212ff"/>
<rect x="103.21" y="226.25" width="2.9" height="2.9" fill="#1212ff"/>
<rect x="105" y="226.15" width="2.9" height="2.9" fill="#1212ff"/>
<rect x="106.79" y="226.01" width="2.9" height="2.9" fill="#1212ff"/>
<rect x="108.58" y="227.22" width="2.9" height="2.9" fill="#1212ff"/>
<rect x="110.37" y="226.07" width="2.9" height="2.9" fill="#1212ff"/>
<rect x="112.16" y="225.98" width="2.9" height="2.9" fill="#1212ff"/>
<rect x="113.95" y="227.12" width="2.9" height="2.9" fill="#1212ff"/>
<rect x="115.74" y="226.24" width="2.9" height="2.9" fill="#1212ff"/>
<rect x="117.54" y="227.11" width="2.9" height="2.9" fill="#1212ff"/>
<rect x="119.33" y="226" width="2.9" height="2.9" fill="#1212ff"/>
<rect x="121.12" y="227.07" width="2.9" height="2.9" fill="#1212ff"/>
<rect x="122.91" y="229.31" width="2.9" height="2.9" fill="#1212ff"/>
<rect x="124.7" y="226.21" width="2.9" height="2.9" fill="#1212ff"/>
<rect x="126.49" y="226.51" width="2.9" height="2.9" fill="#1212ff"/>
<rect x="128.28" y="226.98" width="2.9" height="2.9" fill="#1212ff"/>
<rect x="130.07" y="227.05" width="2.9" height="2.9" fill="#1212ff"/>
<rect x="131.86" y="227.07" width="2.9" height="2.9" fill="#1212ff"/>
<rect x="133.66" y="226.95" width="2.9" height="2.9" fill="#1212ff"/>
<rect x="135.45" y="226" width="2.9" height="2.9" fill="#1212ff"/>
<rect x="137.24" y="226.83" width="2.9" height="2.9" fill="#1212ff"/>
<rect x="139.03" y="226.95" width="2.9" height="2.9" fill="#1212ff"/>
<rect x="140.82" y="226.14" width="2.9" height="2.9" fill="#1212ff"/>
<rect x="142.61" y="227.09" width="2.9" height="2.9" fill="#1212ff"/>
<rect x="144.4" y="226.95" width="2.9" height="2.9" fill="#1212ff"/>
<rect x="146.19" y="226.25" width="2.9" height="2.9" fill="#1212ff"/>
<rect x="147.98" y="226.84" width="2.9" height="2.9" fill="#1212ff"/>
<rect x="149.77" y="227.1" width="2.9" height="2.9" fill="#1212ff"/>
<rect x="151.56" y="226.91" width="2.9" height="2.9" fill="#1212ff"/>
<rect x="153.36" y="226.75" width="2.9" height="2.9" fill="#1212ff"/>
<rect x="155.15" y="226.01" width="2.9" height="2.9" fill="#1212ff"/>
<rect x="156.94" y="226.49" width="2.9" height="2.9" fill="#1212ff"/>
<rect x="158.73" y="226.99" width="2.9" height="2.9" fill="#1212ff"/>
<rect x="160.52" y="226.07" width="2.9" height="2.9" fill="#1212ff"/>
<rect x="162.31" y="226.9" width="2.9" height="2.9" fill="#1212ff"/>
<rect x="164.1" y="226.29" width="2.9" height="2.9" fill="#1212ff"/>
<rect x="165.89" y="226.97" width="2.9" height="2.9" fill="#1212ff"/>
<rect x="167.68" y="226.11" width="2.9" height="2.9" fill="#1212ff"/>
<rect x="169.47" y="226.69" width="2.9" height="2.9" fill="#1212ff"/>
<rect x="171.27" y="227.17" width="2.9" height="2.9" fill="#1212ff"/>
<rect x="173.06" y="226.92" width="2.9" height="2.9" fill="#1212ff"/>
<rect x="174.85" y="226.89" width="2.9" height="2.9" fill="#1212ff"/>
<rect x="176.64" y="226.47" width="2.9" height="2.9" fill="#1212ff"/>
<rect x="178.43" y="227" width="2.9" height="2.9" fill="#1212ff"/>
<rect x="180.22" y="227.13" width="2.9" height="2.9" fill="#1212ff"/>
<rect x="182.01" y="226.51" width="2.9" height="2.9" fill="#1212ff"/>
<rect x="183.8" y="226.44" width="2.9" height="2.9" fill="#1212ff"/>
<rect x="185.59" y="226.06" width="2.9" height="2.9" fill="#1212ff"/>
<rect x="187.38" y="227.2" width="2.9" height="2.9" fill="#1212ff"/>
<rect x="189.18" y="228.87" width="2.9" height="2.9" fill="#1212ff"/>
<rect x="190.97" y="226.99" width="2.9" height="2.9" fill="#1212ff"/>
<rect x="192.76" y="226.5" width="2.9" height="2.9" fill="#1212ff"/>
<rect x="194.55" y="226.76" width="2.9" height="2.9" fill="#1212ff"/>
<rect x="196.34" y="225.98" width="2.9" height="2.9" fill="#1212ff"/>
<rect x="198.13" y="226.35" width="2.9" height="2.9" fill="#1212ff"/>
<rect x="199.92" y="229.26" width="2.9" height="2.9" fill="#1212ff"/>
<rect x="201.71" y="227.19" width="2.9" height="2.9" fill="#1212ff"/>
<rect x="203.5" y="226.34" width="2.9" height="2.9" fill="#1212ff"/>
<rect x="205.29" y="227.19" width="2.9" height="2.9" fill="#1212ff"/>
<rect x="207.09" y="226.61" width="2.9" height="2.9" fill="#1212ff"/>
<rect x="208.88" y="226.82" width="2.9" height="2.9" fill="#1212ff"/>
<rect x="210.67" y="227.12" width="2.9" height="2.9" fill="#1212ff"/>
<rect x="212.46" y="226.29" width="2.9" height="2.9" fill="#1212ff"/>
<path d="M36.6 269.16l2.2 3.8h-4.4z" fill="#ff1212"/>
<path d="M38.39 244.01l2.2 3.8h-4.4z" fill="#ff1212"/>
<path d="M40.18 230.11l2.2 3.8h-4.4z" fill="#ff1212"/>
<path d="M41.97 227.01l2.2 3.8h-4.4z" fill="#ff1212"/>
<path d="M43.76 227.89l2.2 3.8h-4.4z" fill="#ff1212"/>
<path d="M45.55 228.34l2.2 3.8h-4.4z" fill="#ff1212"/>
<path d="M47.35 228.04l2.2 3.8h-4.4z" fill="#ff1212"/>
<path d="M49.14 228.34l2.2 3.8h-4.4z" fill="#ff1212"/>
<path d="M50.93 229.08l2.2 3.8h-4.4z" fill="#ff1212"/>
<path d="M52.72 230.56l2.2 3.8h-4.4z" fill="#ff1212"/>
<path d="M54.51 231l2.2 3.8h-4.4z" fill="#ff1212"/>
<path d="M56.3 230.56l2.2 3.8h-4.4z" fill="#ff1212"/>
<path d="M58.09 229.82l2.2 3.8h-4.4z" fill="#ff1212"/>
<path d="M59.88 229.22l2.2 3.8h-4.4z" fill="#ff1212"/>
<path d="M61.67 228.78l2.2 3.8h-4.4z" fill="#ff1212"/>
<path d="M63.47 228.34l2.2 3.8h-4.4z" fill="#ff1212"/>
<path d="M65.26 227.64l2.2 3.8h-4.4z" fill="#ff1212"/>
<path d="M67.05 227.46l2.2 3.8h-4.4z" fill="#ff1212"/>
<path d="M68.84 228.76l2.2 3.8h-4.4z" fill="#ff1212"/>
<path d="M70.63 227.13l2.2 3.8h-4.4z" fill="#ff1212"/>
<path d="M72.42 228.55l2.2 3.8h-4.4z" fill="#ff1212"/>
<path d="M74.21 227.23l2.2 3.8h-4.4z" fill="#ff1212"/>
<path d="M76 227.92l2.2 3.8h-4.4z" fill="#ff1212"/>
<path d="M77.79 228.04l2.2 3.8h-4.4z" fill="#ff1212"/>
<path d="M79.58 229.52l2.2 3.8h-4.4z" fill="#ff1212"/>
<path d="M81.38 226.81l2.2 3.8h-4.4z" fill="#ff1212"/>
<path d="M83.17 227.59l2.2 3.8h-4.4z" fill="#ff1212"/>
<path d="M84.96 227.56l2.2 3.8h-4.4z" fill="#ff1212"/>
<path d="M86.75 228.43l2.2 3.8h-4.4z" fill="#ff1212"/>
<path d="M88.54 229.48l2.2 3.8h-4.4z" fill="#ff1212"/>
<path d="M90.33 229.63l2.2 3.8h-4.4z" fill="#ff1212"/>
<path d="M92.12 228.29l2.2 3.8h-4.4z" fill="#ff1212"/>
<path d="M93.91 227.64l2.2 3.8h-4.4z" fill="#ff1212"/>
<path d="M95.7 227.88l2.2 3.8h-4.4z" fill="#ff1212"/>
<path d="M97.49 227.45l2.2 3.8h-4.4z" fill="#ff1212"/>
<path d="M99.28 228.79l2.2 3.8h-4.4z" fill="#ff1212"/>
<path d="M101.08 229.07l2.2 3.8h-4.4z" fill="#ff1212"/>
<path d="M102.87 226.99l2.2 3.8h-4.4z" fill="#ff1212"/>
<path d="M104.66 228.35l2.2 3.8h-4.4z" fill="#ff1212"/>
<path d="M106.45 228.68l2.2 3.8h-4.4z" fill="#ff1212"/>
<path d="M108.24 229.06l2.2 3.8h-4.4z" fill="#ff1212"/>
<path d="M110.03 227.25l2.2 3.8h-4.4z" fill="#ff1212"/>
<path d="M111.82 227.03l2.2 3.8h-4.4z" fill="#ff1212"/>
<path d="M113.61 227.9l2.2 3.8h-4.4z" fill="#ff1212"/>
<path d="M115.4 229.21l2.2 3.8h-4.4z" fill="#ff1212"/>
<path d="M117.19 227.13l2.2 3.8h-4.4z" fill="#ff1212"/>
<path d="M118.99 227.5l2.2 3.8h-4.4z" fill="#ff1212"/>
<path d="M120.78 228.78l2.2 3.8h-4.4z" fill="#ff1212"/>
<path d="M122.57 228.25l2.2 3.8h-4.4z" fill="#ff1212"/>
<path d="M124.36 228.95l2.2 3.8h-4.4z" fill="#ff1212"/>
<path d="M126.15 227.72l2.2 3.8h-4.4z" fill="#ff1212"/>
<path d="M127.94 228.63l2.2 3.8h-4.4z" fill="#ff1212"/>
<path d="M129.73 226.65l2.2 3.8h-4.4z" fill="#ff1212"/>
<path d="M131.52 227.85l2.2 3.8h-4.4z" fill="#ff1212"/>
<path d="M133.31 225.48l2.2 3.8h-4.4z" fill="#ff1212"/>
<path d="M135.1 227.44l2.2 3.8h-4.4z" fill="#ff1212"/>
<path d="M136.9 228.62l2.2 3.8h-4.4z" fill="#ff1212"/>
<path d="M138.69 229.47l2.2 3.8h-4.4z" fill="#ff1212"/>
<path d="M140.48 226.69l2.2 3.8h-4.4z" fill="#ff1212"/>
<path d="M142.27 227.06l2.2 3.8h-4.4z" fill="#ff1212"/>
<path d="M144.06 227.61l2.2 3.8h-4.4z" fill="#ff1212"/>
<path d="M145.85 227.63l2.2 3.8h-4.4z" fill="#ff1212"/>
<path d="M147.64 227.62l2.2 3.8h-4.4z" fill="#ff1212"/>
<path d="M149.43 227.09l2.2 3.8h-4.4z" fill="#ff1212"/>
<path d="M151.22 227.45l2.2 3.8h-4.4z" fill="#ff1212"/>
<path d="M153.01 228.06l2.2 3.8h-4.4z" fill="#ff1212"/>
<path d="M154.81 229.43l2.2 3.8h-4.4z" fill="#ff1212"/>
<path d="M156.6 227.34l2.2 3.8h-4.4z" fill="#ff1212"/>
<path d="M158.39 228.64l2.2 3.8h-4.4z" fill="#ff1212"/>
<path d="M160.18 227.38l2.2 3.8h-4.4z" fill="#ff1212"/>
<path d="M161.97 227.61l2.2 3.8h-4.4z" fill="#ff1212"/>
<path d="M163.76 228.26l2.2 3.8h-4.4z" fill="#ff1212"/>
<path d="M165.55 225.26l2.2 3.8h-4.4z" fill="#ff1212"/>
<path d="M167.34 226.65l2.2 3.8h-4.4z" fill="#ff1212"/>
<path d="M169.13 229.02l2.2 3.8h-4.4z" fill="#ff1212"/>
<path d="M170.92 227.55l2.2 3.8h-4.4z" fill="#ff1212"/>
<path d="M172.72 228.27l2.2 3.8h-4.4z" fill="#ff1212"/>
<path d="M174.51 226.78l2.2 3.8h-4.4z" fill="#ff1212"/>
<path d="M176.3 226.58l2.2 3.8h-4.4z" fill="#ff1212"/>
<path d="M178.09 227.44l2.2 3.8h-4.4z" fill="#ff1212"/>
<path d="M179.88 227.22l2.2 3.8h-4.4z" fill="#ff1212"/>
<path d="M181.67 227.45l2.2 3.8h-4.4z" fill="#ff1212"/>
<path d="M183.46 228.71l2.2 3.8h-4.4z" fill="#ff1212"/>
<path d="M185.25 226.44l2.2 3.8h-4.4z" fill="#ff1212"/>
<path d="M187.04 227.74l2.2 3.8h-4.4z" fill="#ff1212"/>
<path d="M188.83 228.38l2.2 3.8h-4.4z" fill="#ff1212"/>
<path d="M190.63 226.79l2.2 3.8h-4.4z" fill="#ff1212"/>
<path d="M192.42 229.07l2.2 3.8h-4.4z" fill="#ff1212"/>
<path d="M194.21 227.68l2.2 3.8h-4.4z" fill="#ff1212"/>
<path d="M196 226.37l2.2 3.8h-4.4z" fill="#ff1212"/>
<path d="M197.79 225.42l2.2 3.8h-4.4z" fill="#ff1212"/>
<path d="M199.58 226.92l2.2 3.8h-4.4z" fill="#ff1212"/>
<path d="M201.37 228.28l2.2 3.8h-4.4z" fill="#ff1212"/>
<path d="M203.16 228.85l2.2 3.8h-4.4z" fill="#ff1212"/>
<path d="M204.95 227.73l2.2 3.8h-4.4z" fill="#ff1212"/>
<path d="M206.74 226.77l2.2 3.8h-4.4z" fill="#ff1212"/>
<path d="M208.54 226.45l2.2 3.8h-4.4z" fill="#ff1212"/>
<path d="M210.33 224.95l2.2 3.8h-4.4z" fill="#ff1212"/>
<path d="M212.12 228.58l2.2 3.8h-4.4z" fill="#ff1212"/>
<path d="M213.91 228.37l2.2 3.8h-4.4z" fill="#ff1212"/>
</g>
<rect x="141.6" y="344.4" width="72.8" height="29.8" fill="#fff" stroke="#d0d0d0" stroke-width="0.8"/>
<circle cx="150.3" cy="349.4" r="1.55" fill="#111"/>
<text x="159.6" y="351.7" font-size="6.6" text-anchor="start" fill="#111" font-weight="normal" font-family='"Liberation Sans", sans-serif' textLength="18.6" lengthAdjust="spacingAndGlyphs" >Gen 2</text>
<path d="M150.3 356.1l1.9 3.3h-3.8z" fill="#ff1515"/>
<rect x="148.8" y="366.8" width="3" height="3" fill="#1515ff"/>
<text x="159.6" y="360.3" font-size="6.6" fill="#222" font-family='"Liberation Sans", sans-serif' textLength="53.2" lengthAdjust="spacingAndGlyphs">(PMpyr<tspan font-size="4.49" dy="1.98">f</tspan><tspan dy="-1.98">)</tspan><tspan font-size="4.49" dy="1.98">0.8</tspan><tspan dy="-1.98">Li</tspan><tspan font-size="4.49" dy="1.98">0.2</tspan><tspan dy="-1.98">FSI</tspan></text>
<text x="159.6" y="370.6" font-size="6.6" fill="#222" font-family='"Liberation Sans", sans-serif' textLength="53.2" lengthAdjust="spacingAndGlyphs">(PMpyr<tspan font-size="4.49" dy="1.98">f</tspan><tspan dy="-1.98">)</tspan><tspan font-size="4.49" dy="1.98">0.5</tspan><tspan dy="-1.98">Li</tspan><tspan font-size="4.49" dy="1.98">0.5</tspan><tspan dy="-1.98">FSI</tspan></text>
<line x1="90.7" y1="241.5" x2="90.7" y2="300.4" stroke="#8a8a8a" stroke-width="0.8"/>
<line x1="90.7" y1="300.4" x2="198.5" y2="300.4" stroke="#8a8a8a" stroke-width="0.8"/>
<line x1="89.3" y1="300.4" x2="90.7" y2="300.4" stroke="#444" stroke-width="0.5"/>
<text x="88.6" y="301.9" font-size="4.2" text-anchor="end" fill="#111" font-weight="normal" font-family='"Liberation Sans", sans-serif' >94</text>
<line x1="89.3" y1="292.06" x2="90.7" y2="292.06" stroke="#444" stroke-width="0.5"/>
<text x="88.6" y="293.56" font-size="4.2" text-anchor="end" fill="#111" font-weight="normal" font-family='"Liberation Sans", sans-serif' >95</text>
<line x1="89.3" y1="283.72" x2="90.7" y2="283.72" stroke="#444" stroke-width="0.5"/>
<text x="88.6" y="285.22" font-size="4.2" text-anchor="end" fill="#111" font-weight="normal" font-family='"Liberation Sans", sans-serif' >96</text>
<line x1="89.3" y1="275.38" x2="90.7" y2="275.38" stroke="#444" stroke-width="0.5"/>
<text x="88.6" y="276.88" font-size="4.2" text-anchor="end" fill="#111" font-weight="normal" font-family='"Liberation Sans", sans-serif' >97</text>
<line x1="89.3" y1="267.04" x2="90.7" y2="267.04" stroke="#444" stroke-width="0.5"/>
<text x="88.6" y="268.54" font-size="4.2" text-anchor="end" fill="#111" font-weight="normal" font-family='"Liberation Sans", sans-serif' >98</text>
<line x1="89.3" y1="258.7" x2="90.7" y2="258.7" stroke="#444" stroke-width="0.5"/>
<text x="88.6" y="260.2" font-size="4.2" text-anchor="end" fill="#111" font-weight="normal" font-family='"Liberation Sans", sans-serif' >99</text>
<line x1="89.3" y1="250.36" x2="90.7" y2="250.36" stroke="#444" stroke-width="0.5"/>
<text x="88.6" y="251.86" font-size="4.2" text-anchor="end" fill="#111" font-weight="normal" font-family='"Liberation Sans", sans-serif' >100</text>
<line x1="89.3" y1="242.02" x2="90.7" y2="242.02" stroke="#444" stroke-width="0.5"/>
<text x="88.6" y="243.52" font-size="4.2" text-anchor="end" fill="#111" font-weight="normal" font-family='"Liberation Sans", sans-serif' >101</text>
<line x1="90" y1="296.23" x2="90.7" y2="296.23" stroke="#444" stroke-width="0.4"/>
<line x1="90" y1="287.89" x2="90.7" y2="287.89" stroke="#444" stroke-width="0.4"/>
<line x1="90" y1="279.55" x2="90.7" y2="279.55" stroke="#444" stroke-width="0.4"/>
<line x1="90" y1="271.21" x2="90.7" y2="271.21" stroke="#444" stroke-width="0.4"/>
<line x1="90" y1="262.87" x2="90.7" y2="262.87" stroke="#444" stroke-width="0.4"/>
<line x1="90" y1="254.53" x2="90.7" y2="254.53" stroke="#444" stroke-width="0.4"/>
<line x1="90" y1="246.19" x2="90.7" y2="246.19" stroke="#444" stroke-width="0.4"/>
<line x1="100" y1="300.4" x2="100" y2="301.9" stroke="#444" stroke-width="0.5"/>
<text x="100" y="306.2" font-size="4.2" text-anchor="middle" fill="#111" font-weight="normal" font-family='"Liberation Sans", sans-serif' >10</text>
<line x1="110.77" y1="300.4" x2="110.77" y2="301.9" stroke="#444" stroke-width="0.5"/>
<text x="110.77" y="306.2" font-size="4.2" text-anchor="middle" fill="#111" font-weight="normal" font-family='"Liberation Sans", sans-serif' >20</text>
<line x1="121.53" y1="300.4" x2="121.53" y2="301.9" stroke="#444" stroke-width="0.5"/>
<text x="121.53" y="306.2" font-size="4.2" text-anchor="middle" fill="#111" font-weight="normal" font-family='"Liberation Sans", sans-serif' >30</text>
<line x1="132.3" y1="300.4" x2="132.3" y2="301.9" stroke="#444" stroke-width="0.5"/>
<text x="132.3" y="306.2" font-size="4.2" text-anchor="middle" fill="#111" font-weight="normal" font-family='"Liberation Sans", sans-serif' >40</text>
<line x1="143.07" y1="300.4" x2="143.07" y2="301.9" stroke="#444" stroke-width="0.5"/>
<text x="143.07" y="306.2" font-size="4.2" text-anchor="middle" fill="#111" font-weight="normal" font-family='"Liberation Sans", sans-serif' >50</text>
<line x1="153.84" y1="300.4" x2="153.84" y2="301.9" stroke="#444" stroke-width="0.5"/>
<text x="153.84" y="306.2" font-size="4.2" text-anchor="middle" fill="#111" font-weight="normal" font-family='"Liberation Sans", sans-serif' >60</text>
<line x1="164.6" y1="300.4" x2="164.6" y2="301.9" stroke="#444" stroke-width="0.5"/>
<text x="164.6" y="306.2" font-size="4.2" text-anchor="middle" fill="#111" font-weight="normal" font-family='"Liberation Sans", sans-serif' >70</text>
<line x1="175.37" y1="300.4" x2="175.37" y2="301.9" stroke="#444" stroke-width="0.5"/>
<text x="175.37" y="306.2" font-size="4.2" text-anchor="middle" fill="#111" font-weight="normal" font-family='"Liberation Sans", sans-serif' >80</text>
<line x1="186.14" y1="300.4" x2="186.14" y2="301.9" stroke="#444" stroke-width="0.5"/>
<text x="186.14" y="306.2" font-size="4.2" text-anchor="middle" fill="#111" font-weight="normal" font-family='"Liberation Sans", sans-serif' >90</text>
<line x1="196.9" y1="300.4" x2="196.9" y2="301.9" stroke="#444" stroke-width="0.5"/>
<text x="196.9" y="306.2" font-size="4.2" text-anchor="middle" fill="#111" font-weight="normal" font-family='"Liberation Sans", sans-serif' >100</text>
<line x1="94.62" y1="300.4" x2="94.62" y2="301.2" stroke="#444" stroke-width="0.4"/>
<line x1="105.38" y1="300.4" x2="105.38" y2="301.2" stroke="#444" stroke-width="0.4"/>
<line x1="116.15" y1="300.4" x2="116.15" y2="301.2" stroke="#444" stroke-width="0.4"/>
<line x1="126.92" y1="300.4" x2="126.92" y2="301.2" stroke="#444" stroke-width="0.4"/>
<line x1="137.68" y1="300.4" x2="137.68" y2="301.2" stroke="#444" stroke-width="0.4"/>
<line x1="148.45" y1="300.4" x2="148.45" y2="301.2" stroke="#444" stroke-width="0.4"/>
<line x1="159.22" y1="300.4" x2="159.22" y2="301.2" stroke="#444" stroke-width="0.4"/>
<line x1="169.99" y1="300.4" x2="169.99" y2="301.2" stroke="#444" stroke-width="0.4"/>
<line x1="180.75" y1="300.4" x2="180.75" y2="301.2" stroke="#444" stroke-width="0.4"/>
<line x1="191.52" y1="300.4" x2="191.52" y2="301.2" stroke="#444" stroke-width="0.4"/>
<text x="144.3" y="314.2" font-size="5" text-anchor="middle" fill="#111" font-weight="normal" font-family='"Liberation Sans", sans-serif' textLength="21.8" lengthAdjust="spacingAndGlyphs" >[Cycle no.]</text>
<text transform="translate(79.3 270) rotate(-90)" x="0" y="0" font-size="5" text-anchor="middle" fill="#111" font-family='"Liberation Sans", sans-serif' textLength="54.7" lengthAdjust="spacingAndGlyphs">Coulombic efficiency [%]</text>
<circle cx="165.2" cy="313.1" r="1.75" fill="#111"/>
<path d="M91.39 289.22 L92.46 277.05 L93.54 273.21 L94.62 281.8 L95.69 281.3 L96.77 282.05 L97.85 282.64 L98.92 285.89 L100 295.48 L101.08 289.22 L102.15 288.39 L103.23 281.8 L104.31 280.13 L105.38 282.89 L106.46 280.97 L107.54 282.64 L108.61 284.3 L109.69 272.71 L110.77 269.38 L111.84 279.3 L112.92 275.21 L114 271.13 L115.07 276.21 L116.15 282.64 L117.23 268.62 L118.3 267.04 L119.38 279.3 L120.46 272.04 L121.53 264.37 L122.61 257.87 L123.69 274.38 L124.76 284.3 L125.84 264.37 L126.92 272.88 L127.99 269.38 L129.07 276.8 L130.15 264.37 L131.22 271.21 L132.3 268.62 L133.38 276.8 L134.45 270.38 L135.53 266.87 L136.61 273.55 L137.68 268.71 L138.76 260.28 L139.84 271.13 L140.91 266.21 L141.99 257.03 L143.07 264.37 L144.14 259.76 L145.22 269.44 L146.3 266.31 L147.37 268.61 L148.45 275.28 L149.53 275.67 L150.6 262.23 L151.68 264.01 L152.76 265.7 L153.84 274.44 L154.91 273.72 L155.99 271.3 L157.07 259.55 L158.14 259.93 L159.22 268.07 L160.3 268.22 L161.37 269.48 L162.45 269.93 L163.53 260.2 L164.6 267.89 L165.68 274.73 L166.76 263.17 L167.83 270.19 L168.91 263.29 L169.99 265.14 L171.06 270.15 L172.14 271.53 L173.22 263.37 L174.29 271.31 L175.37 265.38 L176.45 276.02 L177.52 272.03 L178.6 268.49 L179.68 265.41 L180.75 270.41 L181.83 263.91 L182.91 270.38 L183.98 261.7 L185.06 259.93 L186.14 267.57 L187.21 273.44 L188.29 260.58 L189.37 264.68 L190.44 264.03 L191.52 263.2 L192.6 265.11 L193.67 265.81 L194.75 265.59 L195.83 275.75 L196.9 268.86" fill="none" stroke="#ff8080" stroke-width="0.35" stroke-linejoin="round" />
<path d="M92.46 295.9 L93.54 281.8 L94.62 290.89 L95.69 283.72 L96.77 272.71 L97.85 293.89 L98.92 291.73 L100 280.13 L101.08 275.71 L102.15 273.71 L103.23 271.13 L104.31 277.05 L105.38 262.79 L106.46 272.04 L107.54 258.2 L108.61 262.04 L109.69 255.36 L110.77 266.21 L111.84 279.3 L112.92 256.53 L114 287.31 L115.07 254.53 L116.15 260.37 L117.23 264.37 L118.3 262.04 L119.38 254.53 L120.46 259.53 L121.53 262.87 L122.61 257.03 L123.69 260.37 L124.76 263.62 L125.84 259.53 L126.92 266.12 L127.99 261.2 L129.07 259.53 L130.15 262.87 L131.22 258.7 L132.3 257.87 L133.38 268.62 L134.45 262.04 L135.53 258.7 L136.61 257.03 L137.68 255.36 L138.76 265.37 L139.84 267.87 L140.91 271.21 L141.99 252.03 L143.07 261.2 L144.14 257.79 L145.22 255.35 L146.3 256.13 L147.37 266.21 L148.45 253.25 L149.53 253.85 L150.6 259.97 L151.68 258.91 L152.76 266.44 L153.84 262.66 L154.91 255.77 L155.99 255.32 L157.07 257.87 L158.14 266.6 L159.22 263.65 L160.3 252.69 L161.37 262.52 L162.45 258.98 L163.53 263.72 L164.6 256.83 L165.68 253.95 L166.76 261.5 L167.83 270.4 L168.91 262.35 L169.99 266.58 L171.06 261.83 L172.14 255.02 L173.22 262.15 L174.29 262.47 L175.37 258.64 L176.45 255.99 L177.52 266.37 L178.6 261.43 L179.68 272.33 L180.75 264.06 L181.83 263.84 L182.91 253.44 L183.98 261.74 L185.06 259.18 L186.14 265.09 L187.21 255.32 L188.29 266.1 L189.37 265.33 L190.44 257.96 L191.52 261.8 L192.6 258.89 L193.67 262.13 L194.75 265.51 L195.83 256.85 L196.9 270.17" fill="none" stroke="#8080ff" stroke-width="0.35" stroke-linejoin="round" />
<path d="M91.39 287.67l1.45 2.5h-2.9z" fill="#ff1515"/>
<path d="M92.46 275.5l1.45 2.5h-2.9z" fill="#ff1515"/>
<path d="M93.54 271.66l1.45 2.5h-2.9z" fill="#ff1515"/>
<path d="M94.62 280.25l1.45 2.5h-2.9z" fill="#ff1515"/>
<path d="M95.69 279.75l1.45 2.5h-2.9z" fill="#ff1515"/>
<path d="M96.77 280.5l1.45 2.5h-2.9z" fill="#ff1515"/>
<path d="M97.85 281.09l1.45 2.5h-2.9z" fill="#ff1515"/>
<path d="M98.92 284.34l1.45 2.5h-2.9z" fill="#ff1515"/>
<path d="M100 293.93l1.45 2.5h-2.9z" fill="#ff1515"/>
<path d="M101.08 287.67l1.45 2.5h-2.9z" fill="#ff1515"/>
<path d="M102.15 286.84l1.45 2.5h-2.9z" fill="#ff1515"/>
<path d="M103.23 280.25l1.45 2.5h-2.9z" fill="#ff1515"/>
<path d="M104.31 278.58l1.45 2.5h-2.9z" fill="#ff1515"/>
<path d="M105.38 281.34l1.45 2.5h-2.9z" fill="#ff1515"/>
<path d="M106.46 279.42l1.45 2.5h-2.9z" fill="#ff1515"/>
<path d="M107.54 281.09l1.45 2.5h-2.9z" fill="#ff1515"/>
<path d="M108.61 282.75l1.45 2.5h-2.9z" fill="#ff1515"/>
<path d="M109.69 271.16l1.45 2.5h-2.9z" fill="#ff1515"/>
<path d="M110.77 267.83l1.45 2.5h-2.9z" fill="#ff1515"/>
<path d="M111.84 277.75l1.45 2.5h-2.9z" fill="#ff1515"/>
<path d="M112.92 273.66l1.45 2.5h-2.9z" fill="#ff1515"/>
<path d="M114 269.58l1.45 2.5h-2.9z" fill="#ff1515"/>
<path d="M115.07 274.66l1.45 2.5h-2.9z" fill="#ff1515"/>
<path d="M116.15 281.09l1.45 2.5h-2.9z" fill="#ff1515"/>
<path d="M117.23 267.07l1.45 2.5h-2.9z" fill="#ff1515"/>
<path d="M118.3 265.49l1.45 2.5h-2.9z" fill="#ff1515"/>
<path d="M119.38 277.75l1.45 2.5h-2.9z" fill="#ff1515"/>
<path d="M120.46 270.49l1.45 2.5h-2.9z" fill="#ff1515"/>
<path d="M121.53 262.82l1.45 2.5h-2.9z" fill="#ff1515"/>
<path d="M122.61 256.32l1.45 2.5h-2.9z" fill="#ff1515"/>
<path d="M123.69 272.83l1.45 2.5h-2.9z" fill="#ff1515"/>
<path d="M124.76 282.75l1.45 2.5h-2.9z" fill="#ff1515"/>
<path d="M125.84 262.82l1.45 2.5h-2.9z" fill="#ff1515"/>
<path d="M126.92 271.33l1.45 2.5h-2.9z" fill="#ff1515"/>
<path d="M127.99 267.83l1.45 2.5h-2.9z" fill="#ff1515"/>
<path d="M129.07 275.25l1.45 2.5h-2.9z" fill="#ff1515"/>
<path d="M130.15 262.82l1.45 2.5h-2.9z" fill="#ff1515"/>
<path d="M131.22 269.66l1.45 2.5h-2.9z" fill="#ff1515"/>
<path d="M132.3 267.07l1.45 2.5h-2.9z" fill="#ff1515"/>
<path d="M133.38 275.25l1.45 2.5h-2.9z" fill="#ff1515"/>
<path d="M134.45 268.83l1.45 2.5h-2.9z" fill="#ff1515"/>
<path d="M135.53 265.32l1.45 2.5h-2.9z" fill="#ff1515"/>
<path d="M136.61 272l1.45 2.5h-2.9z" fill="#ff1515"/>
<path d="M137.68 267.16l1.45 2.5h-2.9z" fill="#ff1515"/>
<path d="M138.76 258.73l1.45 2.5h-2.9z" fill="#ff1515"/>
<path d="M139.84 269.58l1.45 2.5h-2.9z" fill="#ff1515"/>
<path d="M140.91 264.66l1.45 2.5h-2.9z" fill="#ff1515"/>
<path d="M141.99 255.48l1.45 2.5h-2.9z" fill="#ff1515"/>
<path d="M143.07 262.82l1.45 2.5h-2.9z" fill="#ff1515"/>
<path d="M144.14 258.21l1.45 2.5h-2.9z" fill="#ff1515"/>
<path d="M145.22 267.89l1.45 2.5h-2.9z" fill="#ff1515"/>
<path d="M146.3 264.76l1.45 2.5h-2.9z" fill="#ff1515"/>
<path d="M147.37 267.06l1.45 2.5h-2.9z" fill="#ff1515"/>
<path d="M148.45 273.73l1.45 2.5h-2.9z" fill="#ff1515"/>
<path d="M149.53 274.12l1.45 2.5h-2.9z" fill="#ff1515"/>
<path d="M150.6 260.68l1.45 2.5h-2.9z" fill="#ff1515"/>
<path d="M151.68 262.46l1.45 2.5h-2.9z" fill="#ff1515"/>
<path d="M152.76 264.15l1.45 2.5h-2.9z" fill="#ff1515"/>
<path d="M153.84 272.89l1.45 2.5h-2.9z" fill="#ff1515"/>
<path d="M154.91 272.17l1.45 2.5h-2.9z" fill="#ff1515"/>
<path d="M155.99 269.75l1.45 2.5h-2.9z" fill="#ff1515"/>
<path d="M157.07 258l1.45 2.5h-2.9z" fill="#ff1515"/>
<path d="M158.14 258.38l1.45 2.5h-2.9z" fill="#ff1515"/>
<path d="M159.22 266.52l1.45 2.5h-2.9z" fill="#ff1515"/>
<path d="M160.3 266.67l1.45 2.5h-2.9z" fill="#ff1515"/>
<path d="M161.37 267.93l1.45 2.5h-2.9z" fill="#ff1515"/>
<path d="M162.45 268.38l1.45 2.5h-2.9z" fill="#ff1515"/>
<path d="M163.53 258.65l1.45 2.5h-2.9z" fill="#ff1515"/>
<path d="M164.6 266.34l1.45 2.5h-2.9z" fill="#ff1515"/>
<path d="M165.68 273.18l1.45 2.5h-2.9z" fill="#ff1515"/>
<path d="M166.76 261.62l1.45 2.5h-2.9z" fill="#ff1515"/>
<path d="M167.83 268.64l1.45 2.5h-2.9z" fill="#ff1515"/>
<path d="M168.91 261.74l1.45 2.5h-2.9z" fill="#ff1515"/>
<path d="M169.99 263.59l1.45 2.5h-2.9z" fill="#ff1515"/>
<path d="M171.06 268.6l1.45 2.5h-2.9z" fill="#ff1515"/>
<path d="M172.14 269.98l1.45 2.5h-2.9z" fill="#ff1515"/>
<path d="M173.22 261.82l1.45 2.5h-2.9z" fill="#ff1515"/>
<path d="M174.29 269.76l1.45 2.5h-2.9z" fill="#ff1515"/>
<path d="M175.37 263.83l1.45 2.5h-2.9z" fill="#ff1515"/>
<path d="M176.45 274.47l1.45 2.5h-2.9z" fill="#ff1515"/>
<path d="M177.52 270.48l1.45 2.5h-2.9z" fill="#ff1515"/>
<path d="M178.6 266.94l1.45 2.5h-2.9z" fill="#ff1515"/>
<path d="M179.68 263.86l1.45 2.5h-2.9z" fill="#ff1515"/>
<path d="M180.75 268.86l1.45 2.5h-2.9z" fill="#ff1515"/>
<path d="M181.83 262.36l1.45 2.5h-2.9z" fill="#ff1515"/>
<path d="M182.91 268.83l1.45 2.5h-2.9z" fill="#ff1515"/>
<path d="M183.98 260.15l1.45 2.5h-2.9z" fill="#ff1515"/>
<path d="M185.06 258.38l1.45 2.5h-2.9z" fill="#ff1515"/>
<path d="M186.14 266.02l1.45 2.5h-2.9z" fill="#ff1515"/>
<path d="M187.21 271.89l1.45 2.5h-2.9z" fill="#ff1515"/>
<path d="M188.29 259.03l1.45 2.5h-2.9z" fill="#ff1515"/>
<path d="M189.37 263.13l1.45 2.5h-2.9z" fill="#ff1515"/>
<path d="M190.44 262.48l1.45 2.5h-2.9z" fill="#ff1515"/>
<path d="M191.52 261.65l1.45 2.5h-2.9z" fill="#ff1515"/>
<path d="M192.6 263.56l1.45 2.5h-2.9z" fill="#ff1515"/>
<path d="M193.67 264.26l1.45 2.5h-2.9z" fill="#ff1515"/>
<path d="M194.75 264.04l1.45 2.5h-2.9z" fill="#ff1515"/>
<path d="M195.83 274.2l1.45 2.5h-2.9z" fill="#ff1515"/>
<path d="M196.9 267.31l1.45 2.5h-2.9z" fill="#ff1515"/>
<circle cx="92.46" cy="295.9" r="1.3" fill="#1515ff"/>
<circle cx="93.54" cy="281.8" r="1.3" fill="#1515ff"/>
<circle cx="94.62" cy="290.89" r="1.3" fill="#1515ff"/>
<circle cx="95.69" cy="283.72" r="1.3" fill="#1515ff"/>
<circle cx="96.77" cy="272.71" r="1.3" fill="#1515ff"/>
<circle cx="97.85" cy="293.89" r="1.3" fill="#1515ff"/>
<circle cx="98.92" cy="291.73" r="1.3" fill="#1515ff"/>
<circle cx="100" cy="280.13" r="1.3" fill="#1515ff"/>
<circle cx="101.08" cy="275.71" r="1.3" fill="#1515ff"/>
<circle cx="102.15" cy="273.71" r="1.3" fill="#1515ff"/>
<circle cx="103.23" cy="271.13" r="1.3" fill="#1515ff"/>
<circle cx="104.31" cy="277.05" r="1.3" fill="#1515ff"/>
<circle cx="105.38" cy="262.79" r="1.3" fill="#1515ff"/>
<circle cx="106.46" cy="272.04" r="1.3" fill="#1515ff"/>
<circle cx="107.54" cy="258.2" r="1.3" fill="#1515ff"/>
<circle cx="108.61" cy="262.04" r="1.3" fill="#1515ff"/>
<circle cx="109.69" cy="255.36" r="1.3" fill="#1515ff"/>
<circle cx="110.77" cy="266.21" r="1.3" fill="#1515ff"/>
<circle cx="111.84" cy="279.3" r="1.3" fill="#1515ff"/>
<circle cx="112.92" cy="256.53" r="1.3" fill="#1515ff"/>
<circle cx="114" cy="287.31" r="1.3" fill="#1515ff"/>
<circle cx="115.07" cy="254.53" r="1.3" fill="#1515ff"/>
<circle cx="116.15" cy="260.37" r="1.3" fill="#1515ff"/>
<circle cx="117.23" cy="264.37" r="1.3" fill="#1515ff"/>
<circle cx="118.3" cy="262.04" r="1.3" fill="#1515ff"/>
<circle cx="119.38" cy="254.53" r="1.3" fill="#1515ff"/>
<circle cx="120.46" cy="259.53" r="1.3" fill="#1515ff"/>
<circle cx="121.53" cy="262.87" r="1.3" fill="#1515ff"/>
<circle cx="122.61" cy="257.03" r="1.3" fill="#1515ff"/>
<circle cx="123.69" cy="260.37" r="1.3" fill="#1515ff"/>
<circle cx="124.76" cy="263.62" r="1.3" fill="#1515ff"/>
<circle cx="125.84" cy="259.53" r="1.3" fill="#1515ff"/>
<circle cx="126.92" cy="266.12" r="1.3" fill="#1515ff"/>
<circle cx="127.99" cy="261.2" r="1.3" fill="#1515ff"/>
<circle cx="129.07" cy="259.53" r="1.3" fill="#1515ff"/>
<circle cx="130.15" cy="262.87" r="1.3" fill="#1515ff"/>
<circle cx="131.22" cy="258.7" r="1.3" fill="#1515ff"/>
<circle cx="132.3" cy="257.87" r="1.3" fill="#1515ff"/>
<circle cx="133.38" cy="268.62" r="1.3" fill="#1515ff"/>
<circle cx="134.45" cy="262.04" r="1.3" fill="#1515ff"/>
<circle cx="135.53" cy="258.7" r="1.3" fill="#1515ff"/>
<circle cx="136.61" cy="257.03" r="1.3" fill="#1515ff"/>
<circle cx="137.68" cy="255.36" r="1.3" fill="#1515ff"/>
<circle cx="138.76" cy="265.37" r="1.3" fill="#1515ff"/>
<circle cx="139.84" cy="267.87" r="1.3" fill="#1515ff"/>
<circle cx="140.91" cy="271.21" r="1.3" fill="#1515ff"/>
<circle cx="141.99" cy="252.03" r="1.3" fill="#1515ff"/>
<circle cx="143.07" cy="261.2" r="1.3" fill="#1515ff"/>
<circle cx="144.14" cy="257.79" r="1.3" fill="#1515ff"/>
<circle cx="145.22" cy="255.35" r="1.3" fill="#1515ff"/>
<circle cx="146.3" cy="256.13" r="1.3" fill="#1515ff"/>
<circle cx="147.37" cy="266.21" r="1.3" fill="#1515ff"/>
<circle cx="148.45" cy="253.25" r="1.3" fill="#1515ff"/>
<circle cx="149.53" cy="253.85" r="1.3" fill="#1515ff"/>
<circle cx="150.6" cy="259.97" r="1.3" fill="#1515ff"/>
<circle cx="151.68" cy="258.91" r="1.3" fill="#1515ff"/>
<circle cx="152.76" cy="266.44" r="1.3" fill="#1515ff"/>
<circle cx="153.84" cy="262.66" r="1.3" fill="#1515ff"/>
<circle cx="154.91" cy="255.77" r="1.3" fill="#1515ff"/>
<circle cx="155.99" cy="255.32" r="1.3" fill="#1515ff"/>
<circle cx="157.07" cy="257.87" r="1.3" fill="#1515ff"/>
<circle cx="158.14" cy="266.6" r="1.3" fill="#1515ff"/>
<circle cx="159.22" cy="263.65" r="1.3" fill="#1515ff"/>
<circle cx="160.3" cy="252.69" r="1.3" fill="#1515ff"/>
<circle cx="161.37" cy="262.52" r="1.3" fill="#1515ff"/>
<circle cx="162.45" cy="258.98" r="1.3" fill="#1515ff"/>
<circle cx="163.53" cy="263.72" r="1.3" fill="#1515ff"/>
<circle cx="164.6" cy="256.83" r="1.3" fill="#1515ff"/>
<circle cx="165.68" cy="253.95" r="1.3" fill="#1515ff"/>
<circle cx="166.76" cy="261.5" r="1.3" fill="#1515ff"/>
<circle cx="167.83" cy="270.4" r="1.3" fill="#1515ff"/>
<circle cx="168.91" cy="262.35" r="1.3" fill="#1515ff"/>
<circle cx="169.99" cy="266.58" r="1.3" fill="#1515ff"/>
<circle cx="171.06" cy="261.83" r="1.3" fill="#1515ff"/>
<circle cx="172.14" cy="255.02" r="1.3" fill="#1515ff"/>
<circle cx="173.22" cy="262.15" r="1.3" fill="#1515ff"/>
<circle cx="174.29" cy="262.47" r="1.3" fill="#1515ff"/>
<circle cx="175.37" cy="258.64" r="1.3" fill="#1515ff"/>
<circle cx="176.45" cy="255.99" r="1.3" fill="#1515ff"/>
<circle cx="177.52" cy="266.37" r="1.3" fill="#1515ff"/>
<circle cx="178.6" cy="261.43" r="1.3" fill="#1515ff"/>
<circle cx="179.68" cy="272.33" r="1.3" fill="#1515ff"/>
<circle cx="180.75" cy="264.06" r="1.3" fill="#1515ff"/>
<circle cx="181.83" cy="263.84" r="1.3" fill="#1515ff"/>
<circle cx="182.91" cy="253.44" r="1.3" fill="#1515ff"/>
<circle cx="183.98" cy="261.74" r="1.3" fill="#1515ff"/>
<circle cx="185.06" cy="259.18" r="1.3" fill="#1515ff"/>
<circle cx="186.14" cy="265.09" r="1.3" fill="#1515ff"/>
<circle cx="187.21" cy="255.32" r="1.3" fill="#1515ff"/>
<circle cx="188.29" cy="266.1" r="1.3" fill="#1515ff"/>
<circle cx="189.37" cy="265.33" r="1.3" fill="#1515ff"/>
<circle cx="190.44" cy="257.96" r="1.3" fill="#1515ff"/>
<circle cx="191.52" cy="261.8" r="1.3" fill="#1515ff"/>
<circle cx="192.6" cy="258.89" r="1.3" fill="#1515ff"/>
<circle cx="193.67" cy="262.13" r="1.3" fill="#1515ff"/>
<circle cx="194.75" cy="265.51" r="1.3" fill="#1515ff"/>
<circle cx="195.83" cy="256.85" r="1.3" fill="#1515ff"/>
<circle cx="196.9" cy="270.17" r="1.3" fill="#1515ff"/>
<text transform="translate(255.3 295.7) rotate(-90)" x="0" y="0" font-size="10.9" text-anchor="middle" fill="#111" font-family='"Liberation Sans", sans-serif' textLength="54.4" lengthAdjust="spacingAndGlyphs">Voltage [V]</text>
<path d="M506 300.5 L506.8 300.06 L507.91 299.42 L509.23 298.68 L510.64 297.92 L512.03 297.23 L513.3 296.7 L514.41 296.35 L515.46 296.11 L516.49 295.95 L517.55 295.81 L518.71 295.64 L520 295.4 L521.46 295.09 L523.06 294.74 L524.75 294.38 L526.48 293.99 L528.21 293.59 L529.9 293.2 L531.55 292.83 L533.2 292.48 L534.86 292.12 L536.51 291.72 L538.16 291.26 L539.8 290.7 L541.49 290.01 L543.24 289.21 L544.98 288.34 L546.66 287.46 L548.22 286.59 L549.6 285.8 L550.77 285.09 L551.76 284.44 L552.63 283.81 L553.43 283.17 L554.2 282.51 L555 281.8 L555.79 281.02 L556.51 280.19 L557.22 279.33 L557.93 278.46 L558.68 277.61 L559.5 276.8 L560.39 276.05 L561.33 275.34 L562.3 274.66 L563.31 273.96 L564.34 273.21 L565.4 272.4 L566.53 271.49 L567.74 270.51 L568.99 269.49 L570.2 268.46 L571.32 267.45 L572.3 266.5 L573.11 265.64 L573.79 264.84 L574.37 264.06 L574.91 263.27 L575.44 262.43 L576 261.5 L576.57 260.44 L577.13 259.29 L577.68 258.07 L578.22 256.86 L578.76 255.69 L579.3 254.6 L579.84 253.61 L580.39 252.69 L580.94 251.81 L581.47 250.94 L582 250.08 L582.5 249.2 L582.99 248.29 L583.46 247.36 L583.92 246.43 L584.37 245.52 L584.8 244.64 L585.2 243.8 L585.58 243.01 L585.93 242.26 L586.26 241.54 L586.58 240.85 L586.89 240.17 L587.2 239.5 L587.52 238.81 L587.85 238.09 L588.18 237.38 L588.47 236.74 L588.72 236.2 L588.9 235.8 L588.9 368.5 L588.83 368.39 L588.75 368.28 L588.64 368.12 L588.51 367.89 L588.33 367.53 L588.1 367 L587.81 366.26 L587.46 365.32 L587.06 364.26 L586.64 363.14 L586.22 362.03 L585.8 361 L585.39 360.04 L584.97 359.1 L584.54 358.17 L584.1 357.23 L583.65 356.28 L583.2 355.3 L582.74 354.28 L582.26 353.21 L581.78 352.14 L581.29 351.06 L580.79 350.01 L580.3 349 L579.81 348.03 L579.31 347.09 L578.81 346.16 L578.3 345.26 L577.8 344.37 L577.3 343.5 L576.8 342.64 L576.3 341.79 L575.79 340.96 L575.29 340.14 L574.79 339.36 L574.3 338.6 L573.81 337.87 L573.31 337.18 L572.82 336.51 L572.34 335.86 L571.86 335.22 L571.4 334.6 L570.95 333.98 L570.5 333.37 L570.07 332.78 L569.64 332.21 L569.22 331.68 L568.8 331.2 L568.4 330.79 L568.02 330.44 L567.65 330.12 L567.27 329.83 L566.86 329.53 L566.4 329.2 L565.89 328.85 L565.34 328.49 L564.77 328.12 L564.18 327.75 L563.58 327.37 L563 327 L562.43 326.64 L561.86 326.29 L561.29 325.93 L560.71 325.56 L560.11 325.15 L559.5 324.7 L558.86 324.18 L558.2 323.62 L557.52 323.02 L556.84 322.4 L556.17 321.79 L555.5 321.2 L554.84 320.62 L554.19 320.04 L553.54 319.47 L552.9 318.9 L552.25 318.34 L551.6 317.8 L550.95 317.27 L550.3 316.76 L549.66 316.25 L549.01 315.76 L548.36 315.27 L547.7 314.8 L547.04 314.34 L546.37 313.88 L545.7 313.44 L545.03 313.01 L544.36 312.59 L543.7 312.2 L543.06 311.82 L542.43 311.45 L541.81 311.09 L541.18 310.76 L540.51 310.46 L539.8 310.2 L539.03 309.99 L538.21 309.81 L537.36 309.68 L536.5 309.55 L535.64 309.43 L534.8 309.3 L534.04 309.17 L533.34 309.06 L532.66 308.94 L531.9 308.82 L531 308.68 L529.9 308.5 L528.5 308.28 L526.85 308.04 L525.06 307.77 L523.25 307.49 L521.52 307.19 L520 306.9 L518.71 306.62 L517.55 306.37 L516.49 306.1 L515.46 305.8 L514.41 305.44 L513.3 305 L512.03 304.41 L510.64 303.67 L509.23 302.88 L507.91 302.11 L506.8 301.46 L506 301Z" fill="#000"/>
<path d="M284.2 293 L285 293.3 L290 293.9 L300 294.9 L308 295.7 L315 296.2 L330 296.4 L340 305.6 L330 305.9 L320 306.2 L310 306.6 L300 307.2 L290 307.8 L285 308.2 L284.2 308.3Z" fill="#ff1a1a"/>
<path d="M283.9 290.8 L284.6 291.4 L285.2 294.6 L290 295.4 L300 296 L310 296.2 L420 296.4 L500 296.8 L589 297 L589 304.9 L500 305 L420 305.4 L320 305.5 L310 305.7 L300 306 L290 306.5 L285 307 L283.9 307.6Z" fill="#0000ff"/>
<line x1="283.7" y1="226" x2="283.7" y2="375.3" stroke="#222" stroke-width="0.9"/>
<line x1="283.2" y1="375.3" x2="617.2" y2="375.3" stroke="#222" stroke-width="0.9"/>
<line x1="278.8" y1="375.15" x2="283.7" y2="375.15" stroke="#222" stroke-width="0.9"/>
<text x="275.3" y="378.15" font-size="8.4" text-anchor="end" fill="#111" font-weight="normal" font-family='"Liberation Sans", sans-serif' >-3</text>
<line x1="278.8" y1="350.35" x2="283.7" y2="350.35" stroke="#222" stroke-width="0.9"/>
<text x="275.3" y="353.35" font-size="8.4" text-anchor="end" fill="#111" font-weight="normal" font-family='"Liberation Sans", sans-serif' >-2</text>
<line x1="278.8" y1="325.55" x2="283.7" y2="325.55" stroke="#222" stroke-width="0.9"/>
<text x="275.3" y="328.55" font-size="8.4" text-anchor="end" fill="#111" font-weight="normal" font-family='"Liberation Sans", sans-serif' >-1</text>
<line x1="278.8" y1="300.75" x2="283.7" y2="300.75" stroke="#222" stroke-width="0.9"/>
<text x="275.3" y="303.75" font-size="8.4" text-anchor="end" fill="#111" font-weight="normal" font-family='"Liberation Sans", sans-serif' >0</text>
<line x1="278.8" y1="275.95" x2="283.7" y2="275.95" stroke="#222" stroke-width="0.9"/>
<text x="275.3" y="278.95" font-size="8.4" text-anchor="end" fill="#111" font-weight="normal" font-family='"Liberation Sans", sans-serif' >1</text>
<line x1="278.8" y1="251.15" x2="283.7" y2="251.15" stroke="#222" stroke-width="0.9"/>
<text x="275.3" y="254.15" font-size="8.4" text-anchor="end" fill="#111" font-weight="normal" font-family='"Liberation Sans", sans-serif' >2</text>
<line x1="278.8" y1="226.35" x2="283.7" y2="226.35" stroke="#222" stroke-width="0.9"/>
<text x="275.3" y="229.35" font-size="8.4" text-anchor="end" fill="#111" font-weight="normal" font-family='"Liberation Sans", sans-serif' >3</text>
<line x1="281.7" y1="362.75" x2="283.7" y2="362.75" stroke="#222" stroke-width="0.9"/>
<line x1="281.7" y1="337.95" x2="283.7" y2="337.95" stroke="#222" stroke-width="0.9"/>
<line x1="281.7" y1="313.15" x2="283.7" y2="313.15" stroke="#222" stroke-width="0.9"/>
<line x1="281.7" y1="288.35" x2="283.7" y2="288.35" stroke="#222" stroke-width="0.9"/>
<line x1="281.7" y1="263.55" x2="283.7" y2="263.55" stroke="#222" stroke-width="0.9"/>
<line x1="281.7" y1="238.75" x2="283.7" y2="238.75" stroke="#222" stroke-width="0.9"/>
<line x1="350.37" y1="375.3" x2="350.37" y2="379.6" stroke="#222" stroke-width="0.9"/>
<text x="350.37" y="390.9" font-size="8.4" text-anchor="middle" fill="#111" font-weight="normal" font-family='"Liberation Sans", sans-serif' >200</text>
<line x1="417.03" y1="375.3" x2="417.03" y2="379.6" stroke="#222" stroke-width="0.9"/>
<text x="417.03" y="390.9" font-size="8.4" text-anchor="middle" fill="#111" font-weight="normal" font-family='"Liberation Sans", sans-serif' >400</text>
<line x1="483.7" y1="375.3" x2="483.7" y2="379.6" stroke="#222" stroke-width="0.9"/>
<text x="483.7" y="390.9" font-size="8.4" text-anchor="middle" fill="#111" font-weight="normal" font-family='"Liberation Sans", sans-serif' >600</text>
<line x1="550.36" y1="375.3" x2="550.36" y2="379.6" stroke="#222" stroke-width="0.9"/>
<text x="550.36" y="390.9" font-size="8.4" text-anchor="middle" fill="#111" font-weight="normal" font-family='"Liberation Sans", sans-serif' >800</text>
<line x1="617.03" y1="375.3" x2="617.03" y2="379.6" stroke="#222" stroke-width="0.9"/>
<text x="617.03" y="390.9" font-size="8.4" text-anchor="middle" fill="#111" font-weight="normal" font-family='"Liberation Sans", sans-serif' >1000</text>
<line x1="317.03" y1="375.3" x2="317.03" y2="377.6" stroke="#222" stroke-width="0.9"/>
<line x1="383.7" y1="375.3" x2="383.7" y2="377.6" stroke="#222" stroke-width="0.9"/>
<line x1="450.37" y1="375.3" x2="450.37" y2="377.6" stroke="#222" stroke-width="0.9"/>
<line x1="517.03" y1="375.3" x2="517.03" y2="377.6" stroke="#222" stroke-width="0.9"/>
<line x1="583.7" y1="375.3" x2="583.7" y2="377.6" stroke="#222" stroke-width="0.9"/>
<text x="450.4" y="401" font-size="10.7" text-anchor="middle" fill="#111" font-weight="normal" font-family='"Liberation Sans", sans-serif' textLength="38.8" lengthAdjust="spacingAndGlyphs" >Time [h]</text>
<rect x="312.3" y="236.1" width="88.3" height="36.2" fill="#fff" stroke="#c0c0c0" stroke-width="0.8"/>
<line x1="313.8" y1="242.2" x2="332" y2="242.2" stroke="#111" stroke-width="0.9"/>
<line x1="313.8" y1="252.6" x2="332" y2="252.6" stroke="#ff2020" stroke-width="0.9"/>
<line x1="313.8" y1="264.6" x2="332" y2="264.6" stroke="#2020ff" stroke-width="0.9"/>
<text x="334.6" y="245.2" font-size="7.9" text-anchor="start" fill="#111" font-weight="normal" font-family='"Liberation Sans", sans-serif' textLength="21.5" lengthAdjust="spacingAndGlyphs" >Gen 2</text>
<text x="334.6" y="255.4" font-size="7.9" fill="#222" font-family='"Liberation Sans", sans-serif' textLength="63.8" lengthAdjust="spacingAndGlyphs">(PMpyr<tspan font-size="5.37" dy="2.37">f</tspan><tspan dy="-2.37">)</tspan><tspan font-size="5.37" dy="2.37">0.8</tspan><tspan dy="-2.37">Li</tspan><tspan font-size="5.37" dy="2.37">0.2</tspan><tspan dy="-2.37">FSI</tspan></text>
<text x="334.6" y="267.4" font-size="7.9" fill="#222" font-family='"Liberation Sans", sans-serif' textLength="63.8" lengthAdjust="spacingAndGlyphs">(PMpyr<tspan font-size="5.37" dy="2.37">f</tspan><tspan dy="-2.37">)</tspan><tspan font-size="5.37" dy="2.37">0.5</tspan><tspan dy="-2.37">Li</tspan><tspan font-size="5.37" dy="2.37">0.5</tspan><tspan dy="-2.37">FSI</tspan></text>
<line x1="294.1" y1="354.4" x2="311.3" y2="354.4" stroke="#111" stroke-width="0.75"/>
<line x1="294.1" y1="364.2" x2="335.2" y2="364.2" stroke="#111" stroke-width="0.75"/>
<text x="294.1" y="353.3" font-size="8.4" fill="#111" font-family='"Liberation Sans", sans-serif' textLength="17.1" lengthAdjust="spacingAndGlyphs">Li||Li</text>
<text x="294.1" y="362.9" font-size="8.4" fill="#111" font-family='"Liberation Sans", sans-serif' textLength="41" lengthAdjust="spacingAndGlyphs">0.5mA/cm<tspan font-size="5.4" dy="-3">2</tspan></text>
<rect x="404" y="309.5" width="139.4" height="63" fill="#fff"/>
<path d="M512 337 L513 330 L516.3 326.1 L520.7 323.6 L523.7 319.7 L525.6 314.7 L527.1 310.9 L543.4 310.9 L543.4 363.3 L527.1 363.3 L525.6 359.5 L523.7 354.5 L520.7 350.6 L516.3 348.1 L513 344 Z" fill="#000"/>
<path d="M426.6 325.0 L440 325.0 L450 325.0 L500 325.6 L525 326.1 L543.4 326.4 L543.4 347.4 L525 348.0 L500 348.3 L450 348.6 L440 349.2 L426.6 349.2 Z" fill="#0000ff"/>
<path d="M426.5 311.2 L427.6 311.2 L427.6 330 L426.5 330 Z" fill="#0000ff"/>
<path d="M426.6 317.43 L427.4 318.34 L428.2 319.37 L429 319.14 L429.8 320.07 L430.6 321.64 L431.4 321.92 L432.2 322.09 L433 322.5 L433.8 322.71 L434.6 323.23 L435.4 323.63 L436.2 323.22 L437 324.2 L437.8 324.14 L438.6 324.23 L439.4 323.84 L440.2 323.94 L441 324.62 L441.8 323.64 L442.6 324.87 L443.4 324.47 L444.2 324.37 L445 324.22 L445.8 324.61 L446.6 324.82 L447.4 325.13 L448.2 324.94 L449 325.27 L449.8 325.4 L450.6 325.2 L451.4 325.43 L452.2 324.74 L453 325.6 L453.8 324.6 L454.6 325.12 L455.4 325.02 L456.2 325.9 L457 325.61 L457.8 325.82 L458.6 326.12 L459.4 325.66 L460.2 325.45 L461 325.93 L461.8 325.43 L462.6 326.08 L463.4 325.35 L464.2 325.8 L465 326.68 L465.8 326.14 L466.6 326.47 L467.4 326.41 L468.2 327.02 L469 326.37 L469.8 326.17 L470.6 327.27 L471.4 326.74 L472.2 326.62 L473 326.14 L473.8 327.06 L474.6 327.12 L475.4 327.26 L476.2 327.37 L477 326.48 L477.8 327.46 L478.6 326.94 L479.4 327.48 L480.2 327.23 L481 327.31 L481.8 327.28 L482.6 328.01 L483.4 327.79 L484.2 327.5 L485 328.26 L485.8 327.46 L486.6 328.24 L487.4 327.78 L488.2 328.57 L489 328.67 L489.8 328.01 L490.6 328.85 L491.4 327.99 L492.2 328.48 L493 328.94 L493.8 328.14 L494.6 329.08 L495.4 329.14 L496.2 328.26 L497 329.26 L497.8 328.7 L498.6 328.87 L499.4 329.64 L500.2 328.43 L501 329.72 L501.8 329.17 L502.6 329.93 L503.4 329.74 L504.2 329.69 L505 329.24 L505.8 329.22 L506.6 329.79 L507.4 330.17 L508.2 330.37 L509 330.47 L509.8 330.5 L510.6 329.33 L511.4 329.62 L512.2 330.37 L513 330.09 L513.8 330.44 L514.6 330 L515.4 330.39 L516.2 330.28 L517 330.6 L517.8 330.16 L518.6 331.28 L519.4 331.21 L520.2 331.01 L521 330.26 L521.8 330.64 L522.6 330.92 L523.4 331.48 L524.2 330.54 L525 330.71 L525.8 331.97 L526.6 330.79 L527.4 331.18 L528.2 331.3 L529 331.7 L529.8 331.21 L530.6 331.18 L531.4 332.08 L532.2 331.26 L533 331.74 L533.8 332.38 L534.6 332.47 L535.4 332.02 L536.2 332.18 L537 332.14 L537.8 332.27 L538.6 332.44 L539.4 331.86 L540.2 332.42 L541 333.21 L541.8 333.22 L542.6 332.4 L543.4 332.27 L543.4 341.94 L542.6 341.52 L541.8 342.04 L541 341.52 L540.2 342.29 L539.4 341.72 L538.6 342.17 L537.8 341.6 L537 342.3 L536.2 342.38 L535.4 341.98 L534.6 342.4 L533.8 342.12 L533 342.5 L532.2 341.97 L531.4 342.32 L530.6 342.63 L529.8 342.38 L529 342.49 L528.2 342.96 L527.4 342.56 L526.6 342.88 L525.8 343.44 L525 342.41 L524.2 342.56 L523.4 342.45 L522.6 343.17 L521.8 343.31 L521 343.02 L520.2 343.91 L519.4 342.78 L518.6 343.97 L517.8 344.01 L517 344.11 L516.2 343.31 L515.4 344.2 L514.6 344.37 L513.8 343.71 L513 344.61 L512.2 344.1 L511.4 343.85 L510.6 344.54 L509.8 344.37 L509 344.88 L508.2 344.66 L507.4 343.82 L506.6 344.23 L505.8 343.99 L505 344.43 L504.2 344.75 L503.4 345.26 L502.6 344.46 L501.8 345.55 L501 345.67 L500.2 345.67 L499.4 344.64 L498.6 345.06 L497.8 345.13 L497 344.99 L496.2 345.09 L495.4 345.23 L494.6 345.71 L493.8 345.27 L493 346.12 L492.2 345.28 L491.4 345.24 L490.6 345.77 L489.8 346.12 L489 345.51 L488.2 345.95 L487.4 345.87 L486.6 345.61 L485.8 346.14 L485 345.93 L484.2 345.98 L483.4 346.76 L482.6 345.84 L481.8 346.39 L481 346.76 L480.2 346.43 L479.4 346.51 L478.6 346.77 L477.8 347.54 L477 346.34 L476.2 347.36 L475.4 346.88 L474.6 347.11 L473.8 346.61 L473 347.45 L472.2 347.46 L471.4 346.73 L470.6 347.51 L469.8 347.27 L469 347.92 L468.2 347.69 L467.4 347.92 L466.6 347.95 L465.8 347.91 L465 347.77 L464.2 348.65 L463.4 348.59 L462.6 347.66 L461.8 348.08 L461 347.62 L460.2 347.75 L459.4 349.1 L458.6 349.14 L457.8 348.3 L457 347.97 L456.2 348.03 L455.4 349.11 L454.6 348.31 L453.8 349.29 L453 349.62 L452.2 348.39 L451.4 349.17 L450.6 348.72 L449.8 349.29 L449 349.91 L448.2 348.85 L447.4 350.08 L446.6 350.06 L445.8 350.09 L445 349.71 L444.2 349.49 L443.4 349.44 L442.6 349.7 L441.8 349.46 L441 349.35 L440.2 350.59 L439.4 350.43 L438.6 350.64 L437.8 350.65 L437 350.19 L436.2 349.71 L435.4 350.67 L434.6 350.14 L433.8 351.32 L433 351.77 L432.2 351.07 L431.4 351.86 L430.6 352.22 L429.8 352.29 L429 353.57 L428.2 352.96 L427.4 354.21 L426.6 354.66Z" fill="#ff0000"/>
<line x1="426.4" y1="310.6" x2="426.4" y2="363.3" stroke="#8a8a8a" stroke-width="0.8"/>
<line x1="426.4" y1="363.3" x2="543.4" y2="363.3" stroke="#8a8a8a" stroke-width="0.8"/>
<line x1="425" y1="310.94" x2="426.4" y2="310.94" stroke="#444" stroke-width="0.5"/>
<text x="424" y="312.44" font-size="4.2" text-anchor="end" fill="#111" font-weight="normal" font-family='"Liberation Sans", sans-serif' >0.4</text>
<line x1="425" y1="324.02" x2="426.4" y2="324.02" stroke="#444" stroke-width="0.5"/>
<text x="424" y="325.52" font-size="4.2" text-anchor="end" fill="#111" font-weight="normal" font-family='"Liberation Sans", sans-serif' >0.2</text>
<line x1="425" y1="337.1" x2="426.4" y2="337.1" stroke="#444" stroke-width="0.5"/>
<text x="424" y="338.6" font-size="4.2" text-anchor="end" fill="#111" font-weight="normal" font-family='"Liberation Sans", sans-serif' >0.0</text>
<line x1="425" y1="350.18" x2="426.4" y2="350.18" stroke="#444" stroke-width="0.5"/>
<text x="424" y="351.68" font-size="4.2" text-anchor="end" fill="#111" font-weight="normal" font-family='"Liberation Sans", sans-serif' >-0.2</text>
<line x1="425" y1="363.26" x2="426.4" y2="363.26" stroke="#444" stroke-width="0.5"/>
<text x="424" y="364.76" font-size="4.2" text-anchor="end" fill="#111" font-weight="normal" font-family='"Liberation Sans", sans-serif' >-0.4</text>
<line x1="425.7" y1="317.48" x2="426.4" y2="317.48" stroke="#444" stroke-width="0.4"/>
<line x1="425.7" y1="330.56" x2="426.4" y2="330.56" stroke="#444" stroke-width="0.4"/>
<line x1="425.7" y1="343.64" x2="426.4" y2="343.64" stroke="#444" stroke-width="0.4"/>
<line x1="425.7" y1="356.72" x2="426.4" y2="356.72" stroke="#444" stroke-width="0.4"/>
<line x1="452.6" y1="363.3" x2="452.6" y2="364.8" stroke="#444" stroke-width="0.5"/>
<text x="452.6" y="369.6" font-size="4.2" text-anchor="middle" fill="#111" font-weight="normal" font-family='"Liberation Sans", sans-serif' >200</text>
<line x1="478.7" y1="363.3" x2="478.7" y2="364.8" stroke="#444" stroke-width="0.5"/>
<text x="478.7" y="369.6" font-size="4.2" text-anchor="middle" fill="#111" font-weight="normal" font-family='"Liberation Sans", sans-serif' >400</text>
<line x1="504.8" y1="363.3" x2="504.8" y2="364.8" stroke="#444" stroke-width="0.5"/>
<text x="504.8" y="369.6" font-size="4.2" text-anchor="middle" fill="#111" font-weight="normal" font-family='"Liberation Sans", sans-serif' >600</text>
<line x1="530.9" y1="363.3" x2="530.9" y2="364.8" stroke="#444" stroke-width="0.5"/>
<text x="530.9" y="369.6" font-size="4.2" text-anchor="middle" fill="#111" font-weight="normal" font-family='"Liberation Sans", sans-serif' >800</text>
<line x1="439.55" y1="363.3" x2="439.55" y2="364.1" stroke="#444" stroke-width="0.4"/>
<line x1="465.65" y1="363.3" x2="465.65" y2="364.1" stroke="#444" stroke-width="0.4"/>
<line x1="491.75" y1="363.3" x2="491.75" y2="364.1" stroke="#444" stroke-width="0.4"/>
<line x1="517.85" y1="363.3" x2="517.85" y2="364.1" stroke="#444" stroke-width="0.4"/>
<text x="485.4" y="373.6" font-size="5.6" text-anchor="middle" fill="#111" font-weight="normal" font-family='"Liberation Sans", sans-serif' textLength="20" lengthAdjust="spacingAndGlyphs" >Time [h]</text>
<text transform="translate(410.5 335.4) rotate(-90)" x="0" y="0" font-size="5.2" text-anchor="middle" fill="#111" font-family='"Liberation Sans", sans-serif' textLength="29.6" lengthAdjust="spacingAndGlyphs">Voltage [V]</text></svg></body></html>
